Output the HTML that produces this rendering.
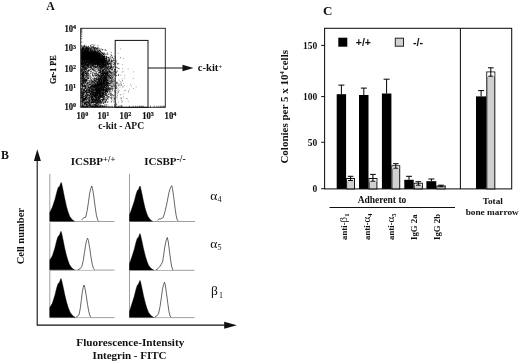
<!DOCTYPE html><html><head><meta charset="utf-8"><title>Figure</title>
<style>html,body{margin:0;padding:0;background:#fff}svg{display:block}text{font-family:"Liberation Serif",serif;font-weight:bold;fill:#111}.r{font-weight:normal}</style></head><body>
<svg width="520" height="362" viewBox="0 0 520 362">
<rect width="520" height="362" fill="#fff"/>
<text x="46.2" y="9.8" font-size="11.8">A</text>
<path d="M94.0 59.7h.8M94.0 53.9h.8M92.7 52.9h.8M92.5 64.1h.8M91.7 54.2h.8M97.7 61.7h.8M97.1 55.2h.8M93.0 61.2h.8M84.6 51.7h.8M81.7 46.3h.8M83.9 54.9h.8M96.1 58.3h.8M93.9 58.8h.8M83.2 50.9h.8M88.2 51.6h.8M104.5 59.2h.8M92.6 61.9h.8M90.1 55.9h.8M95.3 59.2h.8M84.6 54.2h.8M108.2 57.4h.8M101.1 62.2h.8M85.7 64.1h.8M102.8 56.6h.8M94.0 61.1h.8M91.7 60.5h.8M92.7 60.9h.8M107.2 61.2h.8M97.0 57.4h.8M97.7 54.2h.8M90.2 55.6h.8M99.5 66.4h.8M85.4 50.4h.8M103.4 53.0h.8M91.0 56.4h.8M103.2 65.9h.8M92.6 55.8h.8M89.7 63.6h.8M91.7 55.7h.8M97.5 59.3h.8M95.0 53.3h.8M95.2 56.7h.8M102.6 65.4h.8M93.1 61.1h.8M89.8 61.4h.8M93.4 60.8h.8M83.6 55.1h.8M93.7 53.8h.8M91.6 68.1h.8M89.0 52.9h.8M95.2 61.2h.8M93.5 57.0h.8M99.1 63.2h.8M86.4 54.3h.8M96.7 54.4h.8M98.2 56.0h.8M101.9 62.9h.8M96.3 56.5h.8M97.3 50.1h.8M84.8 55.7h.8M86.3 58.5h.8M98.4 52.9h.8M101.8 68.9h.8M94.5 57.2h.8M95.0 54.0h.8M104.3 60.4h.8M95.6 55.1h.8M91.9 51.1h.8M104.8 62.6h.8M102.2 62.1h.8M89.6 54.6h.8M90.0 56.4h.8M92.1 55.9h.8M85.0 50.2h.8M108.9 62.0h.8M85.5 55.9h.8M108.4 57.9h.8M94.0 55.2h.8M94.2 58.7h.8M87.7 57.5h.8M90.5 55.9h.8M87.9 49.5h.8M106.1 61.4h.8M96.9 59.5h.8M91.9 54.8h.8M100.1 59.6h.8M93.3 58.0h.8M102.6 65.6h.8M98.6 57.7h.8M81.7 57.1h.8M102.5 61.5h.8M97.4 63.6h.8M99.4 65.3h.8M88.0 62.8h.8M83.0 57.3h.8M96.8 63.8h.8M106.7 71.4h.8M88.5 47.5h.8M102.9 57.5h.8M92.8 61.8h.8M96.5 59.6h.8M92.5 57.7h.8M90.5 49.3h.8M95.0 54.0h.8M93.3 59.9h.8M87.8 52.2h.8M88.2 51.2h.8M97.5 56.1h.8M96.7 61.2h.8M113.2 60.5h.8M101.7 61.4h.8M97.1 52.7h.8M89.4 59.8h.8M93.7 58.5h.8M90.0 62.0h.8M98.4 49.6h.8M92.6 48.1h.8M105.0 63.6h.8M86.9 50.4h.8M103.2 63.3h.8M95.0 58.5h.8M93.3 61.9h.8M98.5 61.4h.8M85.2 56.7h.8M87.0 60.3h.8M84.6 53.2h.8M96.9 53.2h.8M105.5 70.7h.8M89.4 59.9h.8M102.4 49.5h.8M96.6 59.2h.8M97.2 54.5h.8M92.7 56.8h.8M103.4 64.3h.8M91.6 64.6h.8M90.8 54.9h.8M100.5 65.7h.8M99.6 61.4h.8M96.7 58.3h.8M92.8 58.0h.8M105.5 66.3h.8M95.1 56.0h.8M86.5 62.5h.8M98.4 60.7h.8M93.8 52.8h.8M92.3 61.7h.8M91.8 56.1h.8M92.5 58.1h.8M82.2 51.6h.8M86.0 58.8h.8M87.3 57.9h.8M107.2 62.9h.8M89.3 57.0h.8M96.3 54.5h.8M94.4 68.3h.8M92.8 56.7h.8M85.6 55.9h.8M86.6 49.4h.8M106.4 59.6h.8M100.3 68.6h.8M95.5 61.7h.8M110.4 65.0h.8M92.3 50.9h.8M92.1 64.6h.8M103.9 58.3h.8M88.6 53.3h.8M97.2 58.8h.8M95.7 60.5h.8M92.2 57.2h.8M96.3 58.9h.8M95.0 67.8h.8M99.1 60.9h.8M81.6 45.6h.8M100.0 64.5h.8M96.5 51.1h.8M92.8 54.4h.8M95.4 69.9h.8M97.7 56.2h.8M85.3 53.9h.8M95.2 53.3h.8M97.6 54.3h.8M101.4 66.9h.8M104.0 60.6h.8M98.8 59.9h.8M92.0 55.7h.8M86.8 47.9h.8M101.2 60.7h.8M94.4 63.3h.8M82.1 48.9h.8M95.2 60.7h.8M89.6 61.2h.8M98.4 54.4h.8M85.6 58.3h.8M101.7 52.7h.8M104.1 65.9h.8M105.9 62.0h.8M94.2 52.9h.8M115.1 67.2h.8M108.4 61.8h.8M98.9 52.4h.8M89.6 61.0h.8M82.5 58.1h.8M99.1 55.6h.8M91.4 54.8h.8M95.1 56.2h.8M88.5 54.2h.8M88.7 49.5h.8M92.5 61.8h.8M82.3 52.8h.8M91.1 52.2h.8M102.3 59.6h.8M107.9 61.0h.8M98.0 59.0h.8M87.4 58.0h.8M92.1 60.3h.8M96.1 54.0h.8M93.6 58.3h.8M103.8 58.5h.8M97.4 51.5h.8M101.7 56.6h.8M106.2 56.5h.8M87.2 51.5h.8M84.8 55.8h.8M89.4 52.6h.8M100.6 57.7h.8M99.8 56.2h.8M88.2 46.7h.8M109.9 64.1h.8M96.5 59.3h.8M95.7 59.3h.8M111.7 61.5h.8M84.0 48.7h.8M82.5 56.5h.8M102.8 57.7h.8M84.1 51.9h.8M110.8 52.4h.8M100.7 56.2h.8M104.8 58.1h.8M95.0 51.4h.8M84.1 60.4h.8M101.8 60.0h.8M91.1 47.7h.8M91.4 56.9h.8M94.0 57.8h.8M85.7 54.1h.8M91.8 63.5h.8M109.6 64.9h.8M88.5 55.4h.8M91.0 53.3h.8M96.0 54.1h.8M99.5 60.3h.8M96.8 58.7h.8M90.5 52.0h.8M93.6 55.4h.8M96.4 59.4h.8M83.5 53.7h.8M84.9 51.0h.8M96.0 49.1h.8M94.9 59.4h.8M94.0 56.2h.8M93.3 53.2h.8M93.4 55.3h.8M97.5 54.0h.8M96.1 59.9h.8M94.2 56.2h.8M102.0 53.9h.8M97.7 61.2h.8M96.0 61.1h.8M89.8 55.0h.8M98.8 62.6h.8M99.0 53.2h.8M96.6 65.2h.8M102.1 63.2h.8M98.0 47.9h.8M100.3 54.0h.8M85.3 51.1h.8M105.3 61.8h.8M93.4 66.5h.8M107.4 64.0h.8M94.9 52.6h.8M88.2 57.6h.8M97.5 60.4h.8M103.9 59.1h.8M92.7 61.2h.8M97.2 64.9h.8M98.2 58.7h.8M99.3 55.8h.8M93.5 59.5h.8M81.6 50.7h.8M91.3 52.8h.8M100.9 63.4h.8M89.7 56.2h.8M105.7 50.3h.8M92.5 60.2h.8M96.8 67.8h.8M103.0 64.0h.8M95.4 62.8h.8M90.3 56.3h.8M98.1 69.7h.8M93.3 57.7h.8M93.6 64.6h.8M91.5 64.2h.8M87.1 54.2h.8M91.5 60.9h.8M105.6 56.4h.8M86.6 56.4h.8M92.1 50.0h.8M101.9 64.3h.8M99.3 58.4h.8M103.2 61.4h.8M104.9 58.9h.8M87.3 56.1h.8M87.6 58.6h.8M98.3 55.8h.8M95.7 57.4h.8M103.0 59.4h.8M88.7 61.7h.8M108.6 74.8h.8M94.6 59.6h.8M107.0 63.7h.8M86.5 55.3h.8M99.6 56.9h.8M84.0 46.6h.8M101.2 58.0h.8M93.0 58.8h.8M100.1 59.5h.8M100.1 56.8h.8M93.5 53.1h.8M103.6 62.6h.8M89.3 54.3h.8M91.4 60.5h.8M83.7 48.4h.8M86.8 67.2h.8M102.3 61.6h.8M96.4 69.4h.8M93.3 56.2h.8M103.2 65.0h.8M100.8 59.0h.8M106.7 72.5h.8M97.7 63.3h.8M92.1 59.5h.8M100.6 59.7h.8M89.2 54.4h.8M90.3 54.9h.8M94.5 63.9h.8M110.2 66.0h.8M81.8 48.2h.8M85.8 52.0h.8M98.9 50.8h.8M100.0 53.8h.8M97.1 59.2h.8M92.1 57.0h.8M91.3 54.1h.8M81.1 52.1h.8M105.5 73.3h.8M103.7 66.2h.8M86.4 61.7h.8M94.2 58.0h.8M92.0 57.8h.8M91.2 56.5h.8M86.5 53.0h.8M112.8 66.7h.8M91.6 59.7h.8M102.2 56.7h.8M91.1 61.4h.8M96.4 60.0h.8M108.2 61.6h.8M96.1 56.7h.8M110.0 56.3h.8M90.1 53.9h.8M98.7 63.4h.8M108.6 57.4h.8M101.0 60.1h.8M88.2 58.2h.8M91.0 46.8h.8M94.3 51.2h.8M88.6 57.6h.8M94.0 66.0h.8M95.8 51.6h.8M90.2 52.0h.8M84.0 55.7h.8M93.0 48.2h.8M100.3 60.6h.8M97.1 60.2h.8M99.5 61.0h.8M103.6 64.8h.8M96.9 61.6h.8M83.2 52.4h.8M92.0 58.4h.8M97.6 54.1h.8M81.4 51.0h.8M95.1 55.3h.8M96.4 56.3h.8M100.2 57.7h.8M92.4 62.3h.8M116.9 64.0h.8M92.4 53.4h.8M102.9 56.8h.8M90.7 56.6h.8M88.5 51.0h.8M94.6 48.4h.8M83.7 51.5h.8M96.0 58.3h.8M81.2 50.1h.8M99.8 63.7h.8M95.5 54.7h.8M100.6 58.5h.8M86.7 51.0h.8M105.6 64.8h.8M104.6 60.9h.8M103.1 59.6h.8M88.6 67.8h.8M101.6 59.4h.8M93.2 59.5h.8M105.1 61.1h.8M81.1 50.9h.8M94.4 59.0h.8M104.4 64.7h.8M103.0 57.1h.8M97.5 70.1h.8M100.2 62.4h.8M92.4 66.2h.8M87.3 54.6h.8M96.8 63.2h.8M90.4 58.1h.8M92.1 57.9h.8M95.6 53.5h.8M92.7 61.9h.8M87.2 53.9h.8M101.8 56.7h.8M97.9 55.0h.8M99.2 71.9h.8M111.0 65.1h.8M100.2 61.7h.8M92.4 65.1h.8M82.0 57.8h.8M91.5 63.9h.8M97.2 56.5h.8M95.3 62.5h.8M93.9 60.6h.8M94.3 48.1h.8M100.4 64.6h.8M95.6 59.3h.8M103.6 60.5h.8M89.2 55.1h.8M106.6 57.4h.8M105.2 60.4h.8M83.4 59.4h.8M96.1 53.0h.8M89.9 60.9h.8M104.8 61.2h.8M96.4 62.9h.8M88.7 57.5h.8M95.2 56.2h.8M90.5 56.9h.8M95.8 56.4h.8M89.0 61.4h.8M94.6 62.8h.8M103.0 65.3h.8M114.1 63.7h.8M101.5 60.2h.8M106.1 72.2h.8M98.3 64.1h.8M100.5 61.0h.8M96.9 62.8h.8M92.0 62.3h.8M84.5 58.5h.8M94.3 54.1h.8M99.2 56.3h.8M90.1 48.9h.8M93.4 60.4h.8M102.9 61.7h.8M102.8 62.5h.8M92.7 60.4h.8M103.6 61.1h.8M92.9 57.0h.8M96.8 55.2h.8M103.4 60.7h.8M99.7 56.9h.8M96.6 61.4h.8M87.4 65.0h.8M94.2 67.0h.8M103.4 59.4h.8M90.6 58.8h.8M94.9 58.9h.8M95.6 50.2h.8M96.8 48.8h.8M98.8 57.0h.8M89.2 55.0h.8M99.3 53.8h.8M82.5 47.7h.8M109.2 60.2h.8M102.2 55.5h.8M97.5 58.3h.8M93.0 60.5h.8M108.1 65.8h.8M97.3 55.1h.8M99.6 59.7h.8M101.2 61.4h.8M112.1 57.1h.8M90.5 60.9h.8M93.2 54.0h.8M94.9 52.0h.8M90.9 68.7h.8M105.7 58.3h.8M88.3 53.6h.8M104.0 59.0h.8M87.3 59.5h.8M102.1 60.2h.8M88.5 48.2h.8M93.1 47.0h.8M101.7 58.8h.8M94.9 67.7h.8M106.0 58.3h.8M99.3 66.4h.8M90.3 51.9h.8M96.6 51.7h.8M110.7 54.4h.8M86.2 53.3h.8M92.4 58.3h.8M97.1 58.7h.8M107.5 54.2h.8M95.8 55.6h.8M95.1 59.9h.8M88.4 52.6h.8M100.2 62.8h.8M85.3 64.1h.8M115.6 61.3h.8M92.2 69.6h.8M100.3 62.3h.8M93.8 55.6h.8M93.8 55.5h.8M101.2 59.7h.8M93.2 52.1h.8M95.8 54.8h.8M91.1 62.0h.8M96.5 61.9h.8M97.2 60.1h.8M94.1 56.8h.8M102.6 57.0h.8M105.1 63.6h.8M89.4 53.8h.8M88.8 56.6h.8M86.7 60.4h.8M92.5 46.5h.8M92.4 47.8h.8M92.2 62.6h.8M102.2 55.6h.8M85.1 62.8h.8M97.0 59.7h.8M98.4 72.2h.8M104.6 63.9h.8M96.2 62.3h.8M91.6 52.0h.8M96.7 54.9h.8M93.8 58.7h.8M114.8 63.8h.8M93.8 57.4h.8M96.0 64.3h.8M92.1 53.4h.8M83.1 48.7h.8M98.7 60.7h.8M87.1 53.2h.8M93.8 60.6h.8M90.2 55.3h.8M82.1 47.1h.8M111.5 55.8h.8M91.4 58.1h.8M93.0 53.9h.8M94.0 58.3h.8M97.3 50.7h.8M94.9 54.5h.8M89.7 57.4h.8M97.9 64.5h.8M88.8 60.3h.8M101.7 67.4h.8M105.9 63.1h.8M91.6 61.1h.8M83.2 54.3h.8M91.0 55.1h.8M82.3 48.5h.8M92.7 62.0h.8M102.5 61.9h.8M94.5 54.5h.8M98.2 59.0h.8M96.1 67.7h.8M97.0 52.4h.8M90.3 49.5h.8M82.5 59.3h.8M99.1 53.3h.8M97.4 66.0h.8M92.9 54.5h.8M91.3 58.4h.8M97.4 65.6h.8M102.0 67.7h.8M104.1 66.2h.8M82.5 52.3h.8M97.7 58.1h.8M102.4 60.5h.8M84.4 60.8h.8M99.4 61.9h.8M99.9 66.2h.8M101.8 50.0h.8M90.0 54.2h.8M86.3 55.6h.8M104.9 61.0h.8M81.7 62.4h.8M93.2 51.9h.8M95.6 61.1h.8M87.4 59.0h.8M92.3 53.0h.8M94.5 62.2h.8M88.8 57.5h.8M88.5 69.4h.8M86.3 61.4h.8M94.3 57.8h.8M98.6 64.7h.8M104.0 64.5h.8M90.7 54.1h.8M97.5 62.7h.8M104.9 65.4h.8M100.1 68.5h.8M98.6 53.2h.8M87.8 48.4h.8M108.8 61.0h.8M103.2 65.4h.8M106.3 68.9h.8M94.1 57.3h.8M94.9 59.5h.8M90.3 56.4h.8M110.5 57.7h.8M98.2 55.8h.8M94.4 62.5h.8M92.6 61.4h.8M88.5 58.7h.8M100.8 48.9h.8M88.1 56.6h.8M106.4 65.4h.8M99.2 53.8h.8M102.6 71.0h.8M95.1 57.7h.8M114.7 71.4h.8M103.6 65.4h.8M84.2 60.2h.8M85.0 53.1h.8M95.1 63.1h.8M97.1 61.6h.8M90.8 50.5h.8M96.3 55.9h.8M86.4 48.6h.8M94.0 49.3h.8M86.8 47.0h.8M95.2 60.8h.8M113.3 60.0h.8M87.4 59.6h.8M93.4 56.4h.8M108.8 63.5h.8M87.7 48.9h.8M96.6 61.0h.8M85.4 49.5h.8M97.7 62.8h.8M88.2 58.6h.8M102.4 53.5h.8M91.2 59.0h.8M93.9 47.8h.8M90.8 60.4h.8M111.2 55.6h.8M117.4 63.7h.8M99.8 67.0h.8M102.1 62.8h.8M84.1 56.7h.8M93.5 45.8h.8M115.7 71.8h.8M110.7 61.6h.8M103.2 70.3h.8M106.9 64.2h.8M85.2 53.3h.8M97.1 54.9h.8M93.4 57.5h.8M107.5 70.9h.8M91.9 63.2h.8M88.9 54.3h.8M104.1 56.9h.8M94.7 52.2h.8M92.4 65.4h.8M88.1 56.6h.8M89.5 50.6h.8M81.9 59.7h.8M112.4 69.2h.8M87.5 58.6h.8M90.3 60.5h.8M96.3 60.7h.8M100.4 58.4h.8M94.5 50.1h.8M93.6 51.2h.8M95.1 54.1h.8M94.5 60.7h.8M84.7 50.0h.8M85.6 58.0h.8M106.5 68.2h.8M89.0 63.0h.8M94.4 45.0h.8M112.7 74.7h.8M86.0 55.3h.8M92.6 58.1h.8M83.9 50.3h.8M97.8 61.1h.8M103.9 63.3h.8M114.6 64.4h.8M100.1 51.8h.8M82.0 59.1h.8M86.0 57.1h.8M95.9 54.1h.8M92.7 55.2h.8M89.2 59.7h.8M100.8 58.6h.8M86.7 56.3h.8M91.8 62.2h.8M114.1 71.7h.8M94.5 57.7h.8M89.4 51.7h.8M87.2 53.2h.8M89.7 59.9h.8M91.7 56.2h.8M81.7 60.5h.8M95.2 67.5h.8M98.1 67.4h.8M91.2 60.4h.8M118.4 63.7h.8M100.7 69.6h.8M96.4 63.1h.8M106.0 60.6h.8M99.5 56.5h.8M90.2 53.4h.8M93.1 58.6h.8M100.9 54.4h.8M108.5 70.8h.8M101.1 59.8h.8M92.7 60.4h.8M101.1 53.2h.8M95.0 73.2h.8M97.7 59.5h.8M108.0 58.9h.8M93.0 65.1h.8M93.7 56.0h.8M96.3 57.1h.8M108.9 60.7h.8M104.0 56.7h.8M100.2 60.6h.8M86.6 52.6h.8M109.2 59.8h.8M83.1 60.4h.8M92.5 65.3h.8M98.8 56.1h.8M91.6 63.3h.8M102.2 62.1h.8M95.1 58.2h.8M86.1 64.2h.8M96.7 53.9h.8M89.2 59.7h.8M100.0 60.4h.8M89.0 56.0h.8M83.3 46.8h.8M102.0 59.6h.8M95.2 64.9h.8M99.8 61.1h.8M110.7 69.4h.8M90.2 60.1h.8M99.5 56.6h.8M95.4 58.1h.8M93.0 55.6h.8M81.7 50.8h.8M94.0 58.8h.8M84.0 56.8h.8M85.0 52.9h.8M106.5 60.7h.8M88.3 60.9h.8M91.9 55.8h.8M94.3 63.6h.8M88.3 50.2h.8M89.1 51.8h.8M98.7 56.0h.8M94.7 60.6h.8M88.3 56.3h.8M107.3 66.1h.8M89.4 55.8h.8M86.5 56.1h.8M103.1 58.4h.8M90.7 62.2h.8M90.1 57.4h.8M87.7 51.3h.8M86.3 65.2h.8M92.2 54.9h.8M90.3 55.7h.8M99.4 61.7h.8M110.5 67.0h.8M105.5 65.0h.8M102.0 55.0h.8M93.6 57.8h.8M96.6 49.0h.8M102.2 60.2h.8M91.5 55.9h.8M91.9 59.3h.8M86.1 50.1h.8M96.5 60.2h.8M92.6 54.8h.8M88.0 55.2h.8M105.9 58.7h.8M105.1 67.5h.8M89.4 59.9h.8M86.0 46.1h.8M85.0 52.1h.8M92.9 55.2h.8M99.3 50.4h.8M101.1 54.7h.8M90.0 54.4h.8M87.8 48.7h.8M86.5 54.7h.8M98.2 62.9h.8M88.0 51.6h.8M86.3 56.9h.8M92.1 53.6h.8M95.3 63.9h.8M95.3 64.0h.8M93.3 63.9h.8M104.6 62.7h.8M105.7 64.5h.8M96.9 55.1h.8M90.8 60.5h.8M82.8 56.2h.8M96.8 60.9h.8M101.1 57.9h.8M99.6 49.4h.8M101.1 58.4h.8M104.9 54.4h.8M100.5 60.1h.8M102.7 57.8h.8M85.4 65.1h.8M89.2 52.6h.8M94.2 53.4h.8M100.8 69.8h.8M92.1 49.0h.8M101.8 67.3h.8M98.9 66.2h.8M87.9 54.6h.8M86.1 47.7h.8M103.6 59.5h.8M112.5 67.3h.8M87.9 59.3h.8M108.0 67.1h.8M84.1 55.5h.8M106.4 61.6h.8M86.4 59.7h.8M97.7 54.6h.8M92.9 54.1h.8M96.7 60.0h.8M102.4 65.6h.8M81.3 54.3h.8M100.8 63.7h.8M103.7 60.1h.8M85.2 58.7h.8M90.0 45.9h.8M104.0 59.4h.8M94.7 51.8h.8M86.1 49.0h.8M90.9 58.6h.8M87.1 49.9h.8M100.0 60.7h.8M87.2 56.3h.8M93.5 64.9h.8M89.0 60.8h.8M86.5 60.2h.8M89.1 54.2h.8M109.0 66.8h.8M91.2 67.8h.8M98.9 56.6h.8M102.6 56.5h.8M101.3 67.5h.8M91.1 53.9h.8M95.9 59.2h.8M85.6 57.1h.8M91.8 55.9h.8M99.2 54.7h.8M99.5 60.0h.8M91.9 50.6h.8M84.4 55.5h.8M86.7 55.2h.8M101.0 66.6h.8M107.5 63.1h.8M83.9 58.5h.8M94.9 64.1h.8M92.4 63.3h.8M99.9 64.5h.8M97.8 62.0h.8M95.9 60.3h.8M103.3 60.1h.8M108.5 64.5h.8M102.5 61.8h.8M88.8 65.7h.8M94.4 52.3h.8M89.4 54.6h.8M111.3 67.3h.8M103.8 58.0h.8M96.1 62.5h.8M110.2 62.4h.8M98.8 62.0h.8M86.4 54.6h.8M96.7 48.2h.8M98.3 62.9h.8M93.5 51.5h.8M105.8 65.1h.8M100.0 67.9h.8M88.8 59.8h.8M92.7 57.4h.8M93.8 58.2h.8M103.2 63.1h.8M93.8 56.8h.8M98.9 56.2h.8M90.6 56.4h.8M90.2 55.9h.8M85.9 64.2h.8M104.3 65.2h.8M90.0 67.0h.8M97.2 59.4h.8M96.3 60.8h.8M105.8 63.7h.8M112.9 62.8h.8M101.9 57.1h.8M109.6 63.9h.8M92.3 62.0h.8M106.6 58.7h.8M94.3 51.7h.8M95.8 58.6h.8M93.0 54.5h.8M92.8 54.1h.8M95.9 66.5h.8M90.2 58.9h.8M87.2 54.4h.8M84.9 57.4h.8M95.6 58.2h.8M97.9 58.9h.8M81.0 55.1h.8M97.1 59.0h.8M100.1 67.0h.8M87.2 51.3h.8M104.2 69.9h.8M90.8 51.0h.8M90.3 54.1h.8M81.8 52.7h.8M86.5 48.9h.8M103.1 59.2h.8M92.8 60.7h.8M101.6 60.2h.8M96.4 55.4h.8M107.2 67.6h.8M85.7 54.4h.8M99.3 63.1h.8M106.5 70.8h.8M90.4 56.1h.8M83.8 54.7h.8M90.7 69.8h.8M99.2 50.5h.8M88.9 56.4h.8M86.1 50.4h.8M90.9 58.5h.8M94.8 54.3h.8M101.8 59.3h.8M93.1 51.1h.8M87.0 58.2h.8M81.7 52.2h.8M100.9 59.7h.8M98.5 54.9h.8M102.9 67.8h.8M99.6 52.4h.8M84.3 58.5h.8M107.6 66.1h.8M105.6 60.7h.8M93.0 57.8h.8M100.7 54.0h.8M99.5 67.3h.8M87.9 48.8h.8M98.5 57.2h.8M96.6 57.2h.8M111.1 66.9h.8M88.3 56.1h.8M87.6 51.6h.8M98.6 57.7h.8M87.8 63.5h.8M99.9 64.9h.8M97.8 62.4h.8M106.2 63.8h.8M111.1 61.6h.8M95.0 52.1h.8M90.8 59.3h.8M107.3 61.3h.8M95.2 57.1h.8M90.8 51.0h.8M98.2 51.8h.8M95.3 59.0h.8M91.1 52.0h.8M80.9 59.7h.8M100.0 59.3h.8M83.3 58.4h.8M110.0 61.2h.8M90.2 61.6h.8M93.5 67.7h.8M88.9 58.5h.8M92.8 47.0h.8M93.8 57.5h.8M110.4 64.3h.8M93.3 60.8h.8M107.3 64.1h.8M101.8 64.4h.8M92.0 57.7h.8M96.4 55.0h.8M106.8 57.5h.8M102.1 66.7h.8M95.2 55.1h.8M91.8 59.5h.8M99.9 62.4h.8M103.4 60.0h.8M99.3 53.1h.8M100.3 62.0h.8M89.0 61.6h.8M105.3 49.8h.8M97.5 52.8h.8M98.4 72.4h.8M90.2 56.9h.8M91.8 59.0h.8M97.2 66.0h.8M83.7 61.1h.8M86.6 56.1h.8M102.4 65.7h.8M88.3 52.2h.8M90.9 56.6h.8M106.0 57.6h.8M97.1 62.7h.8M98.1 62.4h.8M105.7 66.1h.8M100.3 63.9h.8M112.3 57.6h.8M105.2 62.2h.8M94.1 53.6h.8M88.1 57.9h.8M97.1 58.5h.8M90.3 52.7h.8M86.5 52.1h.8M94.9 57.8h.8M83.7 52.2h.8M87.1 55.8h.8M108.2 67.9h.8M95.0 50.9h.8M86.4 46.5h.8M101.7 58.1h.8M96.2 56.3h.8M92.6 64.4h.8M89.7 54.6h.8M86.4 59.0h.8M88.4 50.2h.8M86.1 47.7h.8M93.5 70.5h.8M84.8 58.6h.8M98.6 55.0h.8M92.7 56.5h.8M85.4 63.6h.8M98.2 57.4h.8M94.1 62.6h.8M94.9 60.7h.8M103.8 53.0h.8M102.1 73.1h.8M100.4 66.2h.8M83.5 52.8h.8M89.1 53.1h.8M103.7 58.9h.8M97.0 50.4h.8M93.1 58.3h.8M90.2 53.0h.8M111.8 60.7h.8M87.6 51.4h.8M100.2 71.3h.8M98.5 56.9h.8M89.1 61.2h.8M84.5 60.9h.8M105.7 64.0h.8M98.3 63.9h.8M108.9 60.1h.8M104.6 61.4h.8M88.2 56.1h.8M94.6 53.8h.8M83.5 48.8h.8M102.4 71.7h.8M97.5 65.6h.8M90.5 56.3h.8M98.8 55.2h.8M86.4 55.2h.8M93.9 53.1h.8M98.1 58.9h.8M102.7 62.3h.8M91.9 57.9h.8M94.4 55.2h.8M89.9 60.0h.8M97.3 66.0h.8M81.7 50.6h.8M90.9 57.6h.8M91.8 54.8h.8M100.4 62.1h.8M82.7 59.5h.8M103.5 59.9h.8M102.5 58.7h.8M103.9 61.8h.8M88.8 54.0h.8M88.0 56.4h.8M95.8 59.3h.8M98.8 51.3h.8M94.3 63.9h.8M97.4 58.0h.8M93.3 57.3h.8M91.2 54.1h.8M84.9 59.8h.8M92.6 62.3h.8M92.4 57.9h.8M92.3 59.7h.8M100.6 62.5h.8M90.6 52.9h.8M108.3 63.6h.8M89.5 63.3h.8M102.2 64.7h.8M86.9 66.4h.8M96.6 62.1h.8M95.8 52.2h.8M83.1 55.2h.8M98.1 59.0h.8M87.8 48.4h.8M94.6 51.5h.8M99.5 66.4h.8M115.4 72.5h.8M91.4 52.8h.8M91.3 61.7h.8M98.3 63.1h.8M95.0 61.9h.8M108.0 59.6h.8M93.4 51.3h.8M105.0 69.7h.8M102.7 56.5h.8M96.3 58.2h.8M95.5 58.1h.8M99.4 58.9h.8M100.9 62.6h.8M92.4 57.0h.8M89.5 60.1h.8M91.8 58.7h.8M94.1 51.1h.8M103.7 57.7h.8M99.1 62.7h.8M83.0 48.6h.8M91.9 53.3h.8M83.7 57.1h.8M91.9 59.1h.8M90.5 58.1h.8M88.6 55.6h.8M99.1 60.8h.8M92.9 52.5h.8M95.2 60.5h.8M93.9 54.5h.8M94.2 70.4h.8M91.5 58.7h.8M102.3 49.7h.8M96.8 56.1h.8M106.0 62.6h.8M88.7 54.7h.8M96.9 56.9h.8M96.6 52.9h.8M91.3 60.8h.8M108.9 68.6h.8M94.5 64.2h.8M99.5 68.9h.8M103.4 62.1h.8M96.2 60.2h.8M96.5 60.4h.8M92.2 47.2h.8M92.9 47.9h.8M95.0 58.8h.8M101.2 62.1h.8M104.3 72.2h.8M83.0 58.1h.8M97.2 61.8h.8M103.3 59.1h.8M91.3 53.0h.8M88.7 55.3h.8M84.9 48.9h.8M99.2 60.4h.8M101.1 52.4h.8M89.3 53.4h.8M95.8 56.3h.8M102.1 61.7h.8M94.6 58.6h.8M101.0 59.3h.8M102.6 64.5h.8M95.7 59.2h.8M96.8 64.5h.8M101.3 63.5h.8M101.3 62.2h.8M104.5 63.1h.8M97.5 54.2h.8M94.6 54.2h.8M110.3 68.3h.8M81.0 54.8h.8M87.8 64.7h.8M90.3 45.6h.8M95.7 57.4h.8M95.2 48.4h.8M94.8 66.8h.8M85.6 65.8h.8M98.3 59.4h.8M102.3 64.7h.8M88.5 59.1h.8M93.8 49.5h.8M111.4 64.7h.8M89.0 57.6h.8M84.6 47.3h.8M91.5 54.6h.8M93.0 63.2h.8M89.8 58.7h.8M101.3 56.4h.8M98.1 55.6h.8M102.1 64.3h.8M97.1 53.2h.8M96.9 55.9h.8M100.4 60.6h.8M86.3 59.2h.8M101.4 58.8h.8M104.3 61.6h.8M91.8 57.8h.8M89.3 53.9h.8M90.4 64.0h.8M106.9 63.0h.8M107.4 64.3h.8M95.9 63.4h.8M92.3 69.2h.8M98.7 54.6h.8M105.7 61.7h.8M97.6 45.4h.8M101.0 65.5h.8M99.1 65.4h.8M108.1 64.6h.8M103.4 59.0h.8M89.7 61.4h.8M100.1 54.6h.8M97.7 59.1h.8M87.2 57.2h.8M94.2 50.7h.8M82.3 61.4h.8M82.0 53.8h.8M98.2 63.3h.8M85.3 52.7h.8M94.1 62.2h.8M91.5 51.5h.8M100.4 66.6h.8M98.6 57.4h.8M97.5 60.4h.8M103.5 56.6h.8M95.7 58.3h.8M85.2 55.2h.8M95.5 57.0h.8M100.3 54.3h.8M93.3 60.0h.8M94.8 63.8h.8M87.7 48.0h.8M95.6 61.2h.8M110.3 68.8h.8M86.0 58.5h.8M90.5 49.4h.8M114.7 69.5h.8M99.2 63.4h.8M108.4 66.4h.8M106.1 58.9h.8M105.3 66.0h.8M96.0 60.0h.8M86.2 62.1h.8M98.8 63.0h.8M95.6 64.1h.8M97.1 63.4h.8M84.2 56.2h.8M112.9 64.6h.8M91.8 61.6h.8M101.0 64.6h.8M86.6 50.8h.8M99.4 59.4h.8M95.1 74.1h.8M99.4 64.3h.8M88.6 52.6h.8M87.0 52.4h.8M87.0 51.8h.8M94.7 53.7h.8M85.7 47.8h.8M98.0 60.4h.8M100.7 66.5h.8M90.5 59.9h.8M104.4 62.1h.8M84.5 55.7h.8M81.0 48.4h.8M100.3 61.6h.8M88.8 60.5h.8M85.7 55.8h.8M92.1 53.3h.8M100.0 56.3h.8M110.8 63.2h.8M112.4 61.5h.8M101.6 56.0h.8M83.5 54.1h.8M102.3 55.9h.8M105.4 59.7h.8M94.8 60.5h.8M102.6 53.5h.8M106.4 66.8h.8M93.0 52.8h.8M83.5 46.8h.8M99.5 59.2h.8M86.5 52.2h.8M107.6 63.0h.8M87.3 61.7h.8M98.1 60.4h.8M92.5 50.0h.8M86.1 52.2h.8M92.1 59.1h.8M98.5 61.4h.8M98.1 55.3h.8M88.1 52.3h.8M94.6 52.5h.8M85.8 54.0h.8M96.6 56.3h.8M98.9 59.5h.8M86.3 54.9h.8M110.8 62.8h.8M101.2 68.3h.8M108.0 60.8h.8M110.4 66.5h.8M92.9 56.6h.8M99.2 60.9h.8M90.7 63.0h.8M90.7 51.7h.8M99.5 64.3h.8M105.2 58.3h.8M102.2 64.4h.8M110.9 60.1h.8M96.8 58.2h.8M83.2 49.7h.8M104.4 60.8h.8M87.1 59.3h.8M100.6 66.1h.8M88.3 55.3h.8M103.9 59.7h.8M87.0 59.0h.8M109.1 59.7h.8M86.7 54.2h.8M99.7 60.2h.8M88.6 56.5h.8M86.9 54.7h.8M84.4 66.8h.8M102.6 58.2h.8M87.4 53.0h.8M82.7 49.5h.8M87.0 59.3h.8M92.6 53.8h.8M86.0 48.8h.8M94.4 57.4h.8M104.7 60.2h.8M102.5 63.5h.8M98.2 50.5h.8M82.8 56.7h.8M105.3 64.5h.8M101.3 59.7h.8M92.8 54.5h.8M101.6 63.5h.8M93.2 56.3h.8M98.3 61.9h.8M84.7 62.2h.8M96.5 59.5h.8M104.4 68.1h.8M92.8 60.3h.8M87.2 52.0h.8M89.7 51.5h.8M92.4 58.8h.8M96.1 67.8h.8M95.7 63.3h.8M88.4 59.1h.8M96.6 57.2h.8M93.8 57.9h.8M95.3 60.8h.8M91.8 53.7h.8M103.6 54.5h.8M86.7 62.4h.8M103.1 54.5h.8M120.0 57.8h.8M103.1 70.1h.8M102.2 61.0h.8M99.0 56.3h.8M103.0 57.0h.8M90.5 61.5h.8M86.3 52.9h.8M98.3 53.8h.8M103.2 64.2h.8M82.5 52.7h.8M89.5 53.0h.8M96.4 56.0h.8M103.5 59.3h.8M102.4 62.0h.8M102.3 59.5h.8M92.6 52.0h.8M97.4 64.4h.8M109.0 71.5h.8M96.9 58.6h.8M97.7 59.8h.8M104.4 67.7h.8M89.1 52.6h.8M104.8 64.8h.8M90.4 62.4h.8M91.9 55.9h.8M94.5 49.0h.8M103.6 56.9h.8M91.3 53.4h.8M100.4 60.9h.8M97.7 51.9h.8M96.5 52.3h.8M96.3 61.1h.8M90.6 66.6h.8M97.6 62.8h.8M96.0 58.3h.8M100.2 66.5h.8M82.2 57.9h.8M96.8 64.2h.8M100.5 55.3h.8M81.8 61.4h.8M99.1 53.8h.8M97.9 58.4h.8M81.2 53.6h.8M94.6 57.3h.8M95.7 62.0h.8M90.2 50.5h.8M90.4 56.0h.8M95.1 51.7h.8M86.9 64.7h.8M89.2 47.9h.8M95.6 61.9h.8M100.3 55.8h.8M103.9 59.1h.8M86.6 51.9h.8M92.3 60.9h.8M99.5 60.7h.8M101.8 62.3h.8M104.3 56.2h.8M84.0 52.1h.8M94.6 56.2h.8M88.3 62.4h.8M112.8 67.1h.8M93.0 61.3h.8M111.3 60.6h.8M95.5 58.1h.8M98.7 61.2h.8M100.5 59.3h.8M96.1 56.0h.8M89.5 55.5h.8M95.5 53.3h.8M107.3 63.8h.8M81.4 57.7h.8M87.6 57.7h.8M93.9 59.4h.8M96.9 56.8h.8M91.0 66.8h.8M99.9 55.9h.8M87.7 65.4h.8M98.6 60.8h.8M97.1 62.8h.8M103.1 64.6h.8M95.3 59.7h.8M103.8 66.8h.8M87.7 52.2h.8M98.3 57.2h.8M93.3 53.3h.8M91.6 59.2h.8M102.4 62.2h.8M111.2 65.9h.8M118.1 74.4h.8M99.4 58.4h.8M92.3 66.8h.8M91.1 60.5h.8M90.5 59.9h.8M97.4 54.3h.8M100.8 64.8h.8M97.4 64.7h.8M103.3 62.5h.8M86.2 47.9h.8M103.9 66.4h.8M96.1 57.1h.8M94.7 58.7h.8M93.1 54.5h.8M111.3 67.5h.8M92.1 51.1h.8M87.4 58.7h.8M101.0 60.4h.8M95.5 57.5h.8M83.2 59.6h.8M92.9 69.8h.8M88.7 55.1h.8M102.0 60.8h.8M85.2 49.6h.8M94.7 60.2h.8M91.9 62.1h.8M101.8 63.5h.8M95.2 57.6h.8M97.2 64.2h.8M94.1 60.5h.8M94.5 51.7h.8M85.1 57.8h.8M95.1 66.5h.8M93.3 62.2h.8M103.2 67.4h.8M90.0 55.5h.8M97.4 55.1h.8M96.4 64.3h.8M87.0 64.6h.8M92.6 56.6h.8M93.9 54.8h.8M97.8 60.1h.8M106.6 67.1h.8M99.2 59.6h.8M83.4 52.9h.8M85.9 59.1h.8M91.2 65.0h.8M98.8 64.6h.8M96.0 60.2h.8M98.0 64.6h.8M87.9 57.8h.8M115.6 67.9h.8M93.7 54.8h.8M94.4 59.9h.8M104.5 75.4h.8M85.5 59.4h.8M98.7 62.4h.8M98.4 60.2h.8M106.0 66.9h.8M94.9 64.8h.8M100.8 63.7h.8M93.9 66.7h.8M98.7 60.1h.8M88.3 54.0h.8M85.9 55.0h.8M100.4 51.3h.8M93.5 61.2h.8M97.6 55.3h.8M105.9 60.5h.8M86.7 49.6h.8M92.6 62.4h.8M103.4 63.7h.8M86.2 51.5h.8M87.7 54.5h.8M99.9 60.3h.8M99.9 56.5h.8M84.1 50.6h.8M101.8 66.9h.8M88.6 61.6h.8M89.1 63.3h.8M99.2 58.5h.8M102.3 58.4h.8M89.7 49.2h.8M96.7 59.2h.8M94.6 56.6h.8M106.8 62.2h.8M86.4 60.8h.8M105.2 65.1h.8M81.7 49.6h.8M99.4 60.9h.8M109.4 58.8h.8M101.1 58.5h.8M105.2 63.1h.8M103.9 59.8h.8M85.3 48.8h.8M91.6 52.2h.8M101.6 68.3h.8M98.6 55.4h.8M94.8 55.3h.8M105.5 65.2h.8M99.1 58.7h.8M84.9 55.8h.8M96.8 55.7h.8M88.5 63.3h.8M88.6 51.3h.8M94.0 54.9h.8M90.1 59.0h.8M111.6 57.8h.8M94.3 58.6h.8M94.2 57.4h.8M89.9 61.2h.8M91.0 56.3h.8M94.3 58.9h.8M91.3 61.8h.8M94.1 59.2h.8M96.0 54.3h.8M89.8 51.2h.8M97.4 56.4h.8M85.6 55.5h.8M102.0 53.4h.8M107.9 64.9h.8M91.7 62.4h.8M96.2 56.4h.8M114.0 62.4h.8M92.1 61.5h.8M86.2 54.1h.8M93.1 69.5h.8M87.5 55.0h.8M99.6 61.3h.8M84.1 55.7h.8M94.5 60.7h.8M101.6 66.7h.8M97.2 61.3h.8M86.0 53.9h.8M97.0 57.7h.8M96.8 55.6h.8M102.7 72.8h.8M90.6 58.6h.8M90.3 62.7h.8M97.8 60.4h.8M92.5 58.2h.8M85.3 57.5h.8M87.8 58.0h.8M93.5 63.3h.8M92.5 62.5h.8M86.0 57.5h.8M92.4 58.4h.8M93.3 62.5h.8M84.0 54.2h.8M93.6 49.3h.8M90.6 59.9h.8M91.3 61.6h.8M91.6 57.2h.8M90.8 58.4h.8M109.0 67.0h.8M97.2 56.8h.8M85.8 61.5h.8M87.3 50.7h.8M94.5 56.4h.8M114.5 56.3h.8M96.1 62.7h.8M86.8 51.8h.8M94.9 66.6h.8M90.1 48.8h.8M99.4 68.2h.8M95.9 48.4h.8M106.4 63.1h.8M103.5 62.5h.8M92.3 55.3h.8M103.6 69.7h.8M109.4 63.6h.8M83.6 53.5h.8M93.8 57.7h.8M91.3 55.5h.8M90.2 58.1h.8M88.6 54.3h.8M90.9 63.2h.8M97.7 59.5h.8M98.0 62.1h.8M102.2 64.6h.8M106.3 70.5h.8M94.9 56.7h.8M100.6 63.8h.8M96.5 52.3h.8M99.2 64.6h.8M82.3 57.8h.8M89.5 58.1h.8M99.3 56.8h.8M93.6 48.0h.8M90.5 47.9h.8M97.9 60.4h.8M101.1 63.3h.8M88.8 57.5h.8M90.3 59.5h.8M98.9 55.7h.8M94.4 58.7h.8M90.4 60.9h.8M108.8 63.4h.8M95.9 48.2h.8M94.3 56.3h.8M100.6 57.8h.8M93.3 53.3h.8M103.4 55.3h.8M88.4 65.1h.8M94.0 60.6h.8M95.5 53.3h.8M93.5 60.0h.8M85.7 56.1h.8M102.4 67.4h.8M83.7 48.7h.8M98.1 63.6h.8M89.7 50.6h.8M94.9 59.2h.8M87.4 55.9h.8M99.2 61.8h.8M90.1 46.2h.8M92.1 58.2h.8M93.2 55.8h.8M87.7 58.8h.8M93.9 58.8h.8M87.9 52.4h.8M97.7 55.1h.8M85.1 52.5h.8M103.7 63.7h.8M106.4 63.4h.8M94.6 51.8h.8M87.2 62.1h.8M95.7 62.6h.8M100.1 61.1h.8M92.6 58.2h.8M99.0 62.8h.8M98.1 60.9h.8M88.8 54.6h.8M85.1 59.0h.8M114.2 66.0h.8M85.5 54.2h.8M105.1 62.7h.8M99.2 61.2h.8M85.7 69.7h.8M96.1 56.6h.8M89.9 58.2h.8M96.3 63.1h.8M98.3 53.3h.8M99.3 59.2h.8M95.0 51.5h.8M91.3 53.5h.8M96.9 52.6h.8M94.7 59.2h.8M86.7 51.8h.8M86.0 58.9h.8M82.1 50.6h.8M102.4 59.1h.8M97.2 55.6h.8M108.3 69.4h.8M106.0 57.4h.8M83.7 58.7h.8M93.4 56.7h.8M99.5 54.7h.8M100.6 61.4h.8M99.6 57.6h.8M99.9 57.6h.8M100.0 66.6h.8M100.8 64.0h.8M104.6 50.1h.8M101.7 60.5h.8M95.8 57.7h.8M84.4 51.2h.8M97.1 66.6h.8M91.2 52.6h.8M107.7 60.4h.8M110.9 66.4h.8M85.6 59.1h.8M110.7 59.1h.8M107.5 63.2h.8M107.1 62.5h.8M81.0 54.6h.8M98.0 70.3h.8M107.0 67.7h.8M93.6 55.5h.8M93.7 54.1h.8M97.0 47.3h.8M96.0 59.0h.8M113.6 71.1h.8M89.6 59.0h.8M85.8 51.5h.8M101.4 56.0h.8M92.3 62.1h.8M97.7 61.9h.8M88.8 52.8h.8M93.5 62.5h.8M90.0 50.9h.8M105.4 59.0h.8M102.6 63.5h.8M98.3 68.7h.8M98.5 64.2h.8M88.5 52.3h.8M96.8 67.0h.8M101.3 72.9h.8M96.6 60.5h.8M102.5 62.3h.8M95.9 54.1h.8M104.4 57.9h.8M101.2 54.7h.8M105.2 58.5h.8M104.2 55.3h.8M88.8 61.6h.8M88.0 55.8h.8M95.0 47.5h.8M96.2 61.4h.8M84.6 56.7h.8M90.0 51.5h.8M95.8 55.8h.8M115.7 60.8h.8M98.6 65.2h.8M99.9 58.7h.8M95.4 64.5h.8M93.5 52.9h.8M86.5 56.3h.8M98.9 53.8h.8M106.2 69.2h.8M103.5 56.9h.8M92.3 54.8h.8M93.3 52.5h.8M97.5 61.0h.8M98.4 57.8h.8M104.4 64.1h.8M92.3 62.1h.8M92.6 56.4h.8M88.0 58.7h.8M92.1 54.4h.8M87.5 58.0h.8M93.4 49.8h.8M100.8 58.0h.8M96.7 61.3h.8M102.2 67.1h.8M90.2 55.7h.8M81.1 60.4h.8M95.4 65.7h.8M95.8 49.1h.8M106.5 64.6h.8M95.5 59.2h.8M98.7 63.0h.8M91.1 54.7h.8M106.6 68.6h.8M95.3 49.8h.8M94.8 61.2h.8M96.2 53.2h.8M90.5 50.6h.8M94.7 62.6h.8M104.0 59.4h.8M95.3 61.6h.8M90.7 56.0h.8M111.1 67.2h.8M102.4 60.0h.8M98.0 51.8h.8M92.1 63.2h.8M109.0 71.1h.8M99.9 61.3h.8M90.0 55.6h.8M100.8 57.6h.8M103.8 58.0h.8M82.2 47.8h.8M83.8 46.8h.8M103.9 61.9h.8M94.1 63.9h.8M105.5 61.2h.8M104.4 65.0h.8M93.7 60.3h.8M84.6 50.1h.8M92.5 60.5h.8M91.8 56.6h.8M99.6 67.7h.8M98.3 66.4h.8M91.8 55.8h.8M97.6 58.5h.8M87.4 63.2h.8M94.7 53.9h.8M95.0 67.6h.8M92.9 63.7h.8M91.9 54.9h.8M89.3 55.4h.8M111.3 60.7h.8M109.4 60.6h.8M91.1 61.0h.8M99.0 62.0h.8M81.6 64.9h.8M92.4 58.5h.8M86.2 52.3h.8M82.4 57.6h.8M91.4 59.8h.8M90.0 54.0h.8M106.6 59.4h.8M86.2 52.5h.8M103.3 58.6h.8M102.8 59.1h.8M103.9 69.3h.8M91.1 55.9h.8M87.5 56.2h.8M106.4 57.0h.8M104.3 56.6h.8M91.0 48.2h.8M111.2 66.6h.8M97.7 56.7h.8M106.9 54.1h.8M90.6 67.4h.8M91.4 57.1h.8M101.4 57.8h.8M92.9 62.4h.8M95.4 60.7h.8M91.1 58.5h.8M92.2 64.5h.8M100.7 60.2h.8M102.2 57.7h.8M103.9 57.7h.8M90.4 57.7h.8M104.3 63.0h.8M94.7 55.9h.8M105.5 68.8h.8M96.3 52.6h.8M87.1 57.9h.8M87.1 59.4h.8M96.8 61.0h.8M98.8 62.9h.8M88.3 54.0h.8M115.4 62.4h.8M88.7 61.0h.8M94.7 54.7h.8M83.0 55.7h.8M100.0 67.9h.8M93.0 62.9h.8M85.9 55.3h.8M88.8 56.7h.8M98.5 65.6h.8M84.2 59.9h.8M92.6 52.6h.8M95.9 52.0h.8M94.0 59.7h.8M91.9 59.9h.8M92.0 57.3h.8M82.9 53.3h.8M88.5 53.5h.8M93.4 58.9h.8M84.3 46.1h.8M91.2 59.3h.8M95.7 63.4h.8M104.0 65.3h.8M96.3 54.3h.8M87.8 53.1h.8M96.2 60.4h.8M94.8 57.9h.8M99.1 61.7h.8M96.3 60.8h.8M92.1 52.4h.8M97.6 62.0h.8M93.5 56.0h.8M114.1 63.9h.8M92.3 58.7h.8M85.1 54.7h.8M107.1 68.9h.8M98.4 63.2h.8M93.6 62.7h.8M94.0 56.2h.8M93.6 62.5h.8M95.9 62.4h.8M110.7 72.5h.8M93.5 53.9h.8M98.5 55.6h.8M101.3 59.1h.8M99.6 67.5h.8M91.6 50.3h.8M90.0 55.3h.8M105.6 56.3h.8M99.1 70.5h.8M98.2 62.9h.8M96.6 53.8h.8M98.1 62.0h.8M95.6 71.5h.8M99.5 62.9h.8M109.5 58.9h.8M86.1 52.8h.8M88.0 58.8h.8M88.7 64.3h.8M105.2 67.2h.8M90.3 59.5h.8M103.0 57.3h.8M96.0 62.6h.8M93.3 65.6h.8M105.7 59.7h.8M97.0 55.6h.8M100.7 57.2h.8M101.1 63.5h.8M102.5 61.5h.8M90.6 63.3h.8M96.7 62.8h.8M108.5 66.7h.8M108.4 57.8h.8M101.9 60.8h.8M93.4 58.0h.8M94.2 66.4h.8M86.6 60.5h.8M90.3 58.7h.8M90.1 59.7h.8M103.3 60.7h.8M97.5 53.0h.8M95.3 63.1h.8M88.0 60.9h.8M84.3 51.4h.8M94.8 58.3h.8M92.6 61.1h.8M93.1 51.7h.8M105.2 65.8h.8M87.9 55.4h.8M99.1 66.5h.8M85.9 58.2h.8M94.5 63.8h.8M106.2 62.3h.8M82.2 54.7h.8M107.4 67.8h.8M91.9 68.9h.8M84.5 58.2h.8M89.9 56.6h.8M92.4 64.9h.8M88.0 52.9h.8M90.1 58.5h.8M86.6 53.1h.8M103.1 61.7h.8M98.5 62.9h.8M94.6 51.0h.8M102.0 62.8h.8M106.1 54.1h.8M85.6 59.4h.8M99.1 60.5h.8M94.1 62.0h.8M91.4 59.0h.8M99.7 50.3h.8M88.9 62.5h.8M91.6 56.5h.8M90.6 54.3h.8M104.0 61.6h.8M93.6 48.5h.8M103.7 53.5h.8M100.4 63.5h.8M86.9 58.5h.8M83.8 47.6h.8M85.1 48.7h.8M104.0 56.4h.8M87.1 50.4h.8M96.7 57.9h.8M102.7 58.9h.8M85.2 51.7h.8M96.5 54.9h.8M93.3 66.7h.8M89.7 56.5h.8M106.4 60.9h.8M89.7 50.9h.8M96.6 61.9h.8M93.1 58.0h.8M102.9 66.6h.8M83.2 53.1h.8M93.9 61.6h.8M93.8 54.9h.8M94.0 49.5h.8M95.2 55.8h.8M100.0 55.9h.8M92.7 52.7h.8M84.5 57.1h.8M89.8 58.3h.8M85.2 54.5h.8M81.7 50.0h.8M89.2 58.7h.8M96.0 58.2h.8M100.6 62.1h.8M97.1 63.2h.8M94.3 56.8h.8M97.6 57.7h.8M95.3 64.0h.8M101.7 59.8h.8M84.1 53.2h.8M91.2 62.1h.8M91.6 55.9h.8M101.0 59.0h.8M89.8 64.4h.8M104.9 66.2h.8M98.1 55.3h.8M98.5 60.4h.8M96.9 56.9h.8M94.5 57.4h.8M94.1 65.0h.8M100.2 52.9h.8M89.4 48.2h.8M86.9 57.4h.8M98.5 57.2h.8M97.7 56.1h.8M85.5 47.3h.8M84.7 60.6h.8M81.2 58.1h.8M105.1 62.3h.8M94.9 55.5h.8M92.8 60.6h.8M92.4 62.1h.8M103.0 63.9h.8M96.9 59.1h.8M99.0 55.0h.8M97.0 60.4h.8M83.3 63.5h.8M88.1 51.0h.8M100.0 51.4h.8M90.7 49.1h.8M86.7 54.0h.8M94.7 63.7h.8M98.4 65.8h.8M99.7 58.4h.8M104.0 60.3h.8M86.4 61.9h.8M100.0 61.9h.8M98.5 64.4h.8M83.5 52.6h.8M84.5 54.2h.8M86.3 61.0h.8M99.8 56.8h.8M96.3 53.2h.8M93.5 60.4h.8M99.8 51.4h.8M90.5 58.9h.8M94.4 63.8h.8M82.9 55.4h.8M88.6 56.4h.8M96.1 62.3h.8M89.2 56.7h.8M87.5 48.1h.8M98.7 59.9h.8M82.8 48.7h.8M91.4 64.3h.8M101.0 65.1h.8M97.2 61.4h.8M97.9 58.7h.8M105.4 70.5h.8M95.2 53.8h.8M111.5 63.5h.8M100.1 70.1h.8M86.1 55.7h.8M90.4 58.8h.8M93.1 67.0h.8M98.9 60.2h.8M103.6 61.2h.8M87.1 65.6h.8M88.5 53.0h.8M96.5 54.0h.8M88.9 53.0h.8M93.0 52.7h.8M85.3 54.7h.8M111.9 69.9h.8M102.9 54.8h.8M96.1 53.2h.8M100.7 60.0h.8M94.6 57.8h.8M92.3 49.8h.8M101.3 54.7h.8M85.3 52.5h.8M88.0 56.5h.8M101.7 62.8h.8M95.7 58.9h.8M104.4 53.9h.8M98.8 55.7h.8M84.3 53.5h.8M90.0 58.9h.8M107.2 52.9h.8M89.9 65.6h.8M98.4 67.0h.8M97.6 52.7h.8M83.8 56.7h.8M103.1 58.7h.8M91.5 58.1h.8M103.0 72.8h.8M89.9 64.9h.8M91.5 52.9h.8M86.8 66.0h.8M96.4 60.0h.8M91.5 56.1h.8M103.2 59.3h.8M94.2 60.0h.8M101.6 62.1h.8M108.3 63.5h.8M90.2 53.9h.8M101.7 62.9h.8M87.0 56.4h.8M97.1 62.8h.8M86.3 58.8h.8M109.9 63.3h.8M103.0 54.6h.8M94.1 59.0h.8M90.1 54.8h.8M97.4 68.0h.8M95.5 50.7h.8M103.2 65.2h.8M99.3 61.4h.8M112.6 67.0h.8M101.7 52.6h.8M90.8 53.2h.8M93.3 59.4h.8M85.0 62.2h.8M86.5 52.3h.8M98.4 54.0h.8M97.6 62.8h.8M88.3 64.6h.8M94.3 59.5h.8M89.6 47.9h.8M89.7 54.5h.8M89.1 59.5h.8M90.6 53.9h.8M83.7 57.6h.8M90.5 57.5h.8M96.3 61.8h.8M104.4 61.9h.8M91.5 60.4h.8M98.1 58.7h.8M95.5 56.3h.8M98.2 64.5h.8M90.7 65.6h.8M82.3 51.5h.8M108.7 62.8h.8M100.8 55.4h.8M102.3 56.9h.8M83.8 52.5h.8M92.4 52.0h.8M93.2 52.8h.8M94.7 58.3h.8M101.0 59.1h.8M86.0 47.9h.8M89.4 63.4h.8M102.2 58.7h.8M103.9 57.0h.8M103.0 60.4h.8M99.2 63.5h.8M91.4 58.4h.8M85.8 53.9h.8M95.2 78.6h.8M99.7 61.1h.8M84.1 58.6h.8M82.5 48.8h.8M99.3 54.7h.8M104.5 68.3h.8M90.7 53.8h.8M86.3 47.6h.8M96.6 62.3h.8M96.5 60.5h.8M89.1 57.5h.8M82.4 52.7h.8M103.5 68.9h.8M91.1 55.1h.8M101.9 70.4h.8M83.0 50.9h.8M93.8 63.9h.8M86.3 57.6h.8M87.4 66.5h.8M97.9 59.2h.8M89.6 61.1h.8M101.7 56.4h.8M98.5 53.6h.8M90.6 50.1h.8M84.9 50.5h.8M85.4 56.6h.8M101.1 60.2h.8M83.8 57.2h.8M98.8 63.5h.8M102.4 60.9h.8M85.1 51.4h.8M100.2 57.2h.8M91.2 49.9h.8M83.3 57.2h.8M100.0 55.2h.8M86.6 51.9h.8M100.8 55.5h.8M96.9 48.9h.8M83.4 55.1h.8M103.6 56.9h.8M86.5 58.5h.8M92.1 54.5h.8M98.0 60.9h.8M101.7 65.5h.8M89.8 55.5h.8M96.3 52.5h.8M84.6 58.4h.8M96.8 58.7h.8M97.7 62.1h.8M104.7 61.1h.8M92.9 56.3h.8M107.5 69.0h.8M87.5 53.4h.8M88.6 55.6h.8M91.7 68.2h.8M99.1 57.0h.8M94.0 55.6h.8M92.8 62.4h.8M88.5 62.8h.8M95.3 64.7h.8M96.8 64.7h.8M96.3 55.1h.8M98.3 63.6h.8M114.8 58.0h.8M90.7 61.7h.8M84.7 52.6h.8M108.6 71.8h.8M84.6 60.7h.8M102.3 65.8h.8M96.9 60.6h.8M88.3 52.9h.8M99.9 61.6h.8M109.7 63.8h.8M95.8 60.8h.8M96.4 55.2h.8M107.5 61.2h.8M100.5 59.8h.8M82.1 59.5h.8M98.5 58.5h.8M100.5 60.7h.8M86.7 65.2h.8M92.9 56.9h.8M87.1 51.3h.8M98.5 63.0h.8M95.7 55.5h.8M103.0 54.1h.8M92.1 56.1h.8M87.3 55.8h.8M90.6 52.7h.8M107.4 68.0h.8M103.9 63.0h.8M100.7 65.1h.8M99.7 72.4h.8M92.1 58.6h.8M83.3 53.3h.8M100.6 58.5h.8M101.1 67.8h.8M88.5 62.6h.8M107.6 66.8h.8M83.9 60.7h.8M93.9 56.4h.8M96.4 56.8h.8M101.6 65.6h.8M103.1 65.3h.8M88.5 54.9h.8M102.2 60.1h.8M118.2 68.4h.8M87.7 60.9h.8M100.5 61.2h.8M91.9 59.3h.8M99.7 64.6h.8M91.3 59.1h.8M99.8 64.7h.8M88.7 54.7h.8M94.2 62.8h.8M99.7 60.3h.8M91.4 65.6h.8M89.0 57.4h.8M106.3 65.7h.8M91.6 56.6h.8M102.0 64.3h.8M90.7 61.1h.8M97.8 60.5h.8M96.4 60.6h.8M92.6 55.4h.8M96.5 54.8h.8M82.0 59.0h.8M92.6 57.5h.8M93.4 58.1h.8M94.6 58.8h.8M86.3 59.2h.8M87.1 60.1h.8M81.2 47.1h.8M102.7 61.6h.8M88.5 57.5h.8M86.0 54.9h.8M88.3 58.2h.8M103.1 58.3h.8M108.4 62.1h.8M106.9 63.9h.8M90.7 53.1h.8M83.3 59.8h.8M90.5 65.3h.8M97.3 48.4h.8M101.9 60.2h.8M89.7 63.9h.8M90.2 62.2h.8M95.9 55.5h.8M99.7 58.0h.8M102.5 66.9h.8M93.9 61.2h.8M99.5 59.5h.8M102.1 60.9h.8M101.2 57.0h.8M94.5 60.5h.8M89.0 53.9h.8M88.9 59.4h.8M88.0 57.6h.8M106.0 65.6h.8M81.4 53.0h.8M103.4 61.3h.8M87.4 54.2h.8M84.4 51.1h.8M83.3 53.0h.8M82.2 57.2h.8M83.7 46.7h.8M82.2 57.4h.8M81.1 56.9h.8M83.9 60.2h.8M83.3 55.3h.8M82.4 57.5h.8M81.2 53.3h.8M83.1 54.7h.8M90.4 48.1h.8M85.2 57.6h.8M85.4 64.7h.8M81.9 57.8h.8M82.3 58.8h.8M82.2 52.1h.8M85.9 64.2h.8M84.8 53.2h.8M82.4 61.0h.8M90.5 57.5h.8M87.4 62.1h.8M91.0 57.1h.8M83.3 57.9h.8M83.0 59.3h.8M81.3 56.9h.8M81.8 55.1h.8M81.0 59.3h.8M90.1 55.0h.8M82.2 57.3h.8M85.8 53.7h.8M87.6 49.5h.8M86.4 53.6h.8M90.9 54.5h.8M84.9 57.1h.8M86.5 62.9h.8M85.8 48.6h.8M85.7 57.6h.8M83.3 45.9h.8M83.8 51.8h.8M94.5 54.5h.8M84.2 45.7h.8M82.0 47.7h.8M82.0 57.8h.8M86.3 57.4h.8M87.6 56.4h.8M84.3 53.0h.8M88.1 67.8h.8M89.6 56.2h.8M88.0 52.7h.8M83.5 65.4h.8M86.2 60.1h.8M81.4 55.1h.8M89.5 63.0h.8M84.7 57.8h.8M86.9 60.2h.8M82.3 58.2h.8M87.0 51.9h.8M83.8 61.9h.8M81.2 57.8h.8M82.6 52.0h.8M91.5 53.2h.8M85.5 61.8h.8M82.9 55.2h.8M84.2 57.2h.8M86.5 60.3h.8M85.2 57.6h.8M84.2 49.4h.8M82.3 60.2h.8M81.2 61.7h.8M81.6 61.3h.8M91.6 65.1h.8M88.7 58.8h.8M84.9 60.9h.8M84.5 64.9h.8M91.1 55.5h.8M82.5 65.7h.8M89.1 65.7h.8M90.4 60.9h.8M83.8 66.2h.8M82.2 61.3h.8M81.3 52.6h.8M85.8 62.7h.8M86.4 58.6h.8M83.0 59.1h.8M85.9 57.8h.8M83.3 63.8h.8M81.8 59.8h.8M83.4 53.5h.8M88.8 59.4h.8M89.7 60.6h.8M94.6 53.4h.8M84.5 54.8h.8M84.2 55.1h.8M89.0 54.0h.8M84.4 58.7h.8M88.3 62.1h.8M85.7 66.5h.8M82.1 63.0h.8M87.2 62.1h.8M83.9 62.7h.8M81.3 63.7h.8M82.1 55.1h.8M89.0 60.5h.8M83.6 58.6h.8M88.9 56.4h.8M84.6 54.7h.8M87.8 54.5h.8M82.4 55.7h.8M83.8 50.8h.8M89.3 59.6h.8M88.8 56.9h.8M81.2 57.5h.8M83.0 58.7h.8M86.0 60.6h.8M81.3 54.0h.8M82.6 56.5h.8M82.5 49.0h.8M81.3 45.9h.8M93.3 47.3h.8M89.0 64.7h.8M87.3 47.9h.8M93.7 59.4h.8M86.3 64.4h.8M85.6 54.7h.8M84.1 65.1h.8M86.1 66.2h.8M82.5 61.7h.8M86.3 68.9h.8M94.1 60.1h.8M84.1 53.4h.8M92.5 59.6h.8M86.7 54.8h.8M84.8 50.5h.8M86.3 50.6h.8M84.3 68.6h.8M84.9 54.3h.8M90.2 56.9h.8M87.4 53.7h.8M87.6 57.7h.8M89.6 55.8h.8M85.0 55.0h.8M86.4 51.0h.8M89.3 50.0h.8M81.4 53.3h.8M84.1 58.5h.8M88.5 67.4h.8M84.0 62.3h.8M82.0 59.5h.8M84.8 56.6h.8M85.6 50.5h.8M85.9 57.1h.8M84.9 46.4h.8M81.9 55.6h.8M92.7 65.2h.8M91.2 58.7h.8M83.0 62.7h.8M81.4 55.2h.8M87.9 50.2h.8M85.4 54.7h.8M83.2 55.1h.8M81.0 63.1h.8M84.9 67.0h.8M82.0 53.4h.8M90.1 55.3h.8M83.9 56.4h.8M92.6 55.4h.8M94.4 50.9h.8M89.8 57.6h.8M88.1 58.9h.8M82.6 59.1h.8M86.7 51.1h.8M88.4 56.6h.8M86.8 48.4h.8M86.3 61.7h.8M86.1 52.0h.8M83.3 55.8h.8M83.9 54.9h.8M87.7 54.2h.8M87.5 51.8h.8M83.3 48.3h.8M87.1 65.8h.8M88.9 58.4h.8M91.2 58.5h.8M89.5 67.6h.8M83.0 56.6h.8M83.5 59.9h.8M81.1 57.3h.8M86.6 63.1h.8M83.0 59.7h.8M87.3 58.7h.8M82.8 55.9h.8M93.1 58.6h.8M81.6 63.0h.8M87.7 46.8h.8M82.5 56.5h.8M85.4 55.1h.8M83.7 55.7h.8M85.1 47.3h.8M81.6 60.8h.8M85.7 52.9h.8M82.0 56.0h.8M81.1 54.6h.8M88.3 48.8h.8M90.5 54.9h.8M83.2 48.0h.8M85.2 52.5h.8M85.1 55.6h.8M81.8 57.1h.8M89.0 57.4h.8M82.7 56.5h.8M81.0 67.9h.8M85.3 59.3h.8M86.0 51.1h.8M82.4 54.1h.8M81.0 53.9h.8M81.3 56.3h.8M90.8 54.1h.8M81.7 52.9h.8M90.8 65.4h.8M88.2 57.4h.8M81.0 55.5h.8M86.0 55.9h.8M81.4 56.1h.8M85.7 64.1h.8M82.3 59.6h.8M86.1 62.8h.8M84.1 62.5h.8M85.7 67.0h.8M99.4 57.3h.8M82.6 48.6h.8M91.5 60.1h.8M81.7 54.2h.8M86.0 48.2h.8M81.3 54.1h.8M88.9 62.5h.8M90.9 63.2h.8M81.8 60.8h.8M81.2 51.9h.8M92.1 69.8h.8M84.6 51.3h.8M80.9 56.8h.8M83.8 50.0h.8M85.0 63.8h.8M100.0 59.4h.8M83.1 61.6h.8M91.5 57.6h.8M86.3 56.8h.8M82.9 58.1h.8M83.0 47.8h.8M81.2 62.2h.8M87.0 61.8h.8M83.9 55.2h.8M83.6 57.1h.8M88.9 58.7h.8M85.6 65.1h.8M83.0 59.4h.8M85.8 57.4h.8M83.6 54.7h.8M82.7 49.7h.8M82.0 57.6h.8M92.9 56.0h.8M84.4 57.6h.8M83.5 60.9h.8M85.1 59.4h.8M86.4 58.6h.8M81.8 60.5h.8M81.7 58.2h.8M83.5 57.1h.8M84.1 59.6h.8M86.9 48.6h.8M87.5 63.5h.8M81.9 50.8h.8M81.8 61.4h.8M94.8 57.3h.8M87.3 62.8h.8M82.0 57.4h.8M86.0 52.5h.8M81.6 62.6h.8M84.6 58.2h.8M81.7 57.8h.8M85.2 57.7h.8M88.4 62.3h.8M82.0 61.3h.8M81.9 58.4h.8M81.0 49.5h.8M83.1 55.2h.8M87.5 66.2h.8M85.2 59.2h.8M90.9 56.8h.8M90.9 63.2h.8M88.4 56.7h.8M86.5 57.1h.8M89.8 58.1h.8M85.0 49.8h.8M81.0 62.1h.8M91.8 59.4h.8M87.1 55.9h.8M85.7 51.6h.8M82.4 58.3h.8M81.6 64.3h.8M86.0 54.1h.8M83.2 52.0h.8M83.5 59.4h.8M87.0 49.3h.8M88.0 46.2h.8M89.0 55.1h.8M83.7 53.8h.8M82.6 55.9h.8M87.8 54.5h.8M87.4 58.9h.8M81.2 56.2h.8M81.9 54.3h.8M90.6 55.0h.8M83.9 60.4h.8M83.8 62.1h.8M87.9 61.8h.8M86.2 60.8h.8M88.6 52.3h.8M90.4 55.7h.8M88.8 58.3h.8M83.0 49.2h.8M87.8 64.4h.8M82.2 58.8h.8M83.4 54.2h.8M84.1 58.1h.8M95.9 55.6h.8M93.9 53.5h.8M88.1 59.8h.8M86.8 55.0h.8M81.6 50.2h.8M90.9 54.1h.8M83.7 56.7h.8M84.9 51.9h.8M82.2 63.6h.8M82.7 51.9h.8M83.3 66.1h.8M88.0 61.8h.8M81.6 52.6h.8M83.9 58.0h.8M81.0 63.2h.8M83.0 56.4h.8M86.2 51.4h.8M82.2 57.9h.8M82.5 67.3h.8M82.2 49.9h.8M86.3 60.1h.8M83.6 57.4h.8M85.9 56.7h.8M90.2 55.4h.8M84.1 55.7h.8M84.2 62.5h.8M85.5 60.3h.8M85.8 52.3h.8M88.0 65.1h.8M85.7 50.9h.8M85.0 60.7h.8M87.5 58.3h.8M83.5 59.1h.8M90.7 62.6h.8M89.5 57.2h.8M91.7 62.2h.8M82.2 59.1h.8M81.5 53.9h.8M85.2 63.3h.8M93.1 59.7h.8M82.8 58.2h.8M84.0 54.5h.8M91.3 59.6h.8M82.2 50.0h.8M85.8 50.5h.8M82.3 60.9h.8M87.8 49.6h.8M89.8 56.0h.8M82.7 58.6h.8M87.0 57.7h.8M84.5 59.5h.8M89.9 56.0h.8M91.1 55.5h.8M82.3 56.7h.8M85.9 62.6h.8M92.4 63.0h.8M81.0 63.7h.8M82.1 59.2h.8M87.4 56.4h.8M86.6 49.0h.8M83.0 60.6h.8M84.3 61.6h.8M84.8 55.4h.8M84.1 61.4h.8M91.9 63.8h.8M85.2 57.9h.8M81.5 62.7h.8M83.0 58.9h.8M83.2 48.7h.8M91.2 55.0h.8M89.9 55.3h.8M91.7 60.0h.8M87.6 53.1h.8M84.6 55.2h.8M86.1 52.6h.8M88.0 57.2h.8M85.0 57.7h.8M91.5 62.3h.8M91.8 61.4h.8M87.1 58.2h.8M83.5 58.6h.8M82.0 57.9h.8M83.2 57.9h.8M83.1 65.1h.8M84.4 45.0h.8M85.0 56.5h.8M88.1 58.9h.8M83.7 63.0h.8M85.9 51.9h.8M88.5 59.1h.8M81.6 61.7h.8M84.0 55.2h.8M83.2 47.8h.8M94.2 55.6h.8M84.0 51.4h.8M88.8 60.6h.8M87.2 53.1h.8M90.0 66.3h.8M91.9 58.1h.8M82.5 53.4h.8M83.3 54.9h.8M81.3 51.9h.8M88.0 59.3h.8M86.0 64.8h.8M89.5 56.3h.8M83.5 62.0h.8M85.4 52.7h.8M83.0 58.9h.8M85.8 68.9h.8M84.5 50.4h.8M84.1 63.5h.8M84.9 63.3h.8M91.0 48.0h.8M87.7 50.2h.8M83.0 52.5h.8M84.3 62.2h.8M82.5 55.2h.8M92.3 56.5h.8M85.0 60.9h.8M85.2 58.0h.8M81.7 58.5h.8M89.0 55.8h.8M83.9 53.5h.8M84.1 65.8h.8M81.2 55.7h.8M85.1 53.4h.8M83.3 60.6h.8M89.4 59.6h.8M94.5 47.5h.8M86.8 58.5h.8M83.6 50.6h.8M89.8 53.2h.8M85.1 61.3h.8M88.0 53.1h.8M81.3 59.1h.8M86.2 55.5h.8M83.3 67.0h.8M81.7 56.9h.8M81.3 51.5h.8M83.0 51.8h.8M93.6 52.8h.8M86.5 57.3h.8M86.3 62.2h.8M85.6 58.2h.8M88.0 58.0h.8M91.4 59.0h.8M86.3 56.7h.8M87.1 58.8h.8M87.5 61.3h.8M82.2 54.6h.8M98.7 48.5h.8M84.1 53.3h.8M91.4 58.7h.8M91.4 44.9h.8M83.9 54.9h.8M82.4 59.6h.8M84.2 54.5h.8M90.5 51.7h.8M91.3 66.1h.8M81.0 64.2h.8M85.9 56.0h.8M88.6 63.9h.8M80.9 63.8h.8M92.0 51.7h.8M88.6 70.7h.8M83.9 52.6h.8M96.4 56.0h.8M81.5 51.8h.8M83.0 57.7h.8M82.6 50.7h.8M81.1 57.3h.8M99.2 62.7h.8M82.0 58.3h.8M86.5 56.0h.8M82.2 65.0h.8M82.6 52.8h.8M82.6 62.1h.8M81.2 55.8h.8M85.3 58.3h.8M82.1 57.4h.8M87.9 57.9h.8M81.5 57.0h.8M83.5 53.3h.8M83.5 54.4h.8M87.6 59.5h.8M85.4 56.7h.8M86.6 51.4h.8M82.6 53.7h.8M92.6 53.8h.8M90.1 57.0h.8M81.0 58.1h.8M86.1 57.7h.8M84.7 54.0h.8M89.4 57.3h.8M84.0 50.4h.8M83.8 56.9h.8M82.7 52.5h.8M83.8 51.2h.8M83.5 60.3h.8M85.7 51.1h.8M81.1 58.6h.8M85.6 54.7h.8M91.3 51.0h.8M85.4 49.3h.8M89.4 59.5h.8M91.3 59.1h.8M82.2 61.0h.8M81.3 66.3h.8M88.3 58.5h.8M82.9 58.5h.8M85.4 56.5h.8M89.6 57.6h.8M84.1 55.4h.8M83.6 52.6h.8M83.3 67.1h.8M87.5 47.8h.8M84.0 58.4h.8M89.7 59.3h.8M89.6 57.8h.8M81.5 52.3h.8M87.7 56.1h.8M88.8 54.8h.8M87.6 51.7h.8M84.6 56.8h.8M93.9 55.0h.8M86.7 54.3h.8M82.6 60.5h.8M87.8 51.7h.8M94.3 59.2h.8M86.7 54.0h.8M81.1 59.2h.8M87.2 58.2h.8M82.7 52.1h.8M87.4 53.1h.8M86.5 52.7h.8M83.4 57.9h.8M88.1 60.7h.8M90.1 62.4h.8M88.7 54.5h.8M85.2 57.4h.8M82.6 48.9h.8M85.5 52.6h.8M85.6 53.6h.8M82.5 49.2h.8M83.0 48.1h.8M80.9 59.6h.8M85.6 52.9h.8M84.9 48.6h.8M83.8 68.5h.8M93.1 57.8h.8M93.6 55.3h.8M86.4 60.3h.8M82.3 53.1h.8M82.7 64.8h.8M83.8 49.2h.8M86.7 50.4h.8M82.7 56.2h.8M82.0 53.1h.8M84.5 63.9h.8M89.4 48.9h.8M82.6 53.2h.8M84.2 58.1h.8M83.7 59.7h.8M93.1 58.6h.8M81.9 67.8h.8M81.4 54.5h.8M88.1 57.7h.8M91.1 61.1h.8M83.2 55.3h.8M85.6 55.4h.8M83.6 54.5h.8M83.2 53.6h.8M84.4 51.2h.8M82.7 54.1h.8M89.7 49.1h.8M81.2 58.7h.8M82.7 48.9h.8M84.6 67.1h.8M83.4 65.3h.8M83.1 62.3h.8M85.9 55.7h.8M87.7 53.9h.8M85.3 62.9h.8M86.9 57.7h.8M83.4 59.6h.8M85.3 53.2h.8M86.0 62.1h.8M83.1 52.8h.8M81.1 57.3h.8M81.6 48.2h.8M95.1 53.5h.8M82.1 54.5h.8M82.9 54.5h.8M80.9 60.7h.8M82.2 56.4h.8M87.5 62.9h.8M92.6 44.7h.8M82.5 59.6h.8M90.3 59.3h.8M82.3 49.1h.8M81.5 50.3h.8M87.6 61.1h.8M90.7 51.4h.8M82.9 53.6h.8M98.9 84.4h.8M95.7 84.2h.8M105.0 90.2h.8M88.4 82.5h.8M101.1 84.8h.8M101.9 101.3h.8M103.9 99.4h.8M91.4 87.7h.8M100.4 90.3h.8M105.8 88.1h.8M97.4 99.2h.8M99.8 83.4h.8M89.8 96.3h.8M105.3 85.7h.8M88.3 94.5h.8M95.2 76.1h.8M94.8 87.1h.8M92.2 105.8h.8M104.9 95.3h.8M106.1 70.3h.8M107.6 83.9h.8M91.9 92.9h.8M102.6 75.6h.8M96.7 89.9h.8M94.7 90.1h.8M107.6 86.7h.8M89.8 90.5h.8M90.9 86.5h.8M102.1 98.7h.8M109.1 71.2h.8M98.2 101.3h.8M107.9 78.9h.8M84.5 98.5h.8M101.3 82.9h.8M98.1 96.4h.8M86.3 91.0h.8M98.1 81.9h.8M87.7 96.0h.8M95.2 86.4h.8M99.3 84.4h.8M100.5 80.2h.8M85.8 91.5h.8M97.7 101.5h.8M103.7 61.1h.8M96.0 100.1h.8M96.7 84.7h.8M90.4 86.0h.8M101.7 95.0h.8M103.7 75.9h.8M99.6 93.6h.8M105.0 81.9h.8M97.2 97.6h.8M98.4 80.4h.8M95.8 103.0h.8M104.6 89.4h.8M95.4 88.1h.8M91.4 91.8h.8M91.8 97.2h.8M102.1 97.0h.8M93.4 100.8h.8M103.6 98.8h.8M97.5 87.2h.8M101.8 83.4h.8M104.3 97.9h.8M109.9 88.1h.8M106.8 82.1h.8M93.4 86.7h.8M101.5 84.3h.8M100.9 84.5h.8M90.6 94.0h.8M107.7 87.2h.8M99.6 93.8h.8M99.5 76.5h.8M91.4 90.7h.8M104.3 80.7h.8M88.2 90.5h.8M102.8 94.1h.8M95.1 91.9h.8M94.6 81.9h.8M101.7 91.2h.8M91.2 95.1h.8M98.9 87.9h.8M98.6 92.8h.8M94.6 86.2h.8M98.2 97.0h.8M109.6 83.6h.8M100.8 100.0h.8M101.2 83.6h.8M104.6 87.9h.8M100.0 72.5h.8M100.1 84.7h.8M103.5 94.6h.8M96.5 80.9h.8M98.6 93.2h.8M97.5 104.3h.8M99.0 91.2h.8M109.0 91.4h.8M96.8 89.1h.8M102.6 74.1h.8M89.5 91.6h.8M104.0 81.5h.8M101.2 86.5h.8M94.0 89.6h.8M97.7 97.9h.8M107.3 92.8h.8M93.2 95.6h.8M101.6 102.1h.8M97.7 102.5h.8M103.3 77.5h.8M90.6 79.2h.8M88.7 89.8h.8M99.3 88.7h.8M100.4 98.9h.8M97.3 85.9h.8M89.2 91.3h.8M108.6 96.5h.8M98.0 97.2h.8M100.5 96.7h.8M99.1 85.9h.8M89.2 104.3h.8M101.9 79.3h.8M98.5 83.7h.8M96.9 86.1h.8M98.6 94.0h.8M98.1 96.0h.8M85.9 86.6h.8M95.0 90.0h.8M97.4 98.2h.8M99.5 95.6h.8M103.5 81.1h.8M89.0 101.8h.8M100.8 81.7h.8M95.1 96.9h.8M101.8 86.4h.8M96.9 82.7h.8M96.3 91.9h.8M87.9 85.6h.8M90.9 89.1h.8M111.8 81.7h.8M109.1 77.5h.8M101.6 96.5h.8M101.0 93.2h.8M92.2 96.5h.8M109.4 90.1h.8M109.9 95.4h.8M102.7 63.6h.8M93.7 88.2h.8M95.4 90.1h.8M103.3 92.9h.8M103.6 82.6h.8M99.3 90.3h.8M102.0 90.3h.8M101.2 91.2h.8M97.7 103.1h.8M106.3 75.5h.8M100.1 105.3h.8M82.3 86.2h.8M100.9 93.3h.8M106.4 89.6h.8M101.7 85.0h.8M85.5 104.5h.8M102.8 90.1h.8M91.7 97.5h.8M90.8 81.7h.8M90.1 106.3h.8M97.2 86.8h.8M96.9 103.0h.8M99.6 91.5h.8M98.5 83.4h.8M108.1 85.8h.8M106.9 89.7h.8M100.9 97.5h.8M94.7 85.5h.8M95.7 89.6h.8M97.0 95.0h.8M101.1 80.2h.8M91.7 85.7h.8M104.9 91.8h.8M104.2 84.2h.8M91.7 92.4h.8M91.6 87.9h.8M98.8 102.8h.8M104.3 102.0h.8M95.4 103.3h.8M95.1 100.5h.8M94.9 99.1h.8M95.8 90.4h.8M108.3 89.1h.8M100.9 97.2h.8M98.9 89.3h.8M96.1 66.3h.8M86.9 91.8h.8M96.3 92.3h.8M115.0 58.1h.8M112.1 77.6h.8M99.4 94.9h.8M106.0 76.1h.8M102.0 89.4h.8M88.8 101.2h.8M102.7 88.4h.8M93.5 97.2h.8M97.5 90.8h.8M101.9 84.4h.8M92.1 85.5h.8M96.3 99.9h.8M93.9 104.4h.8M92.0 93.9h.8M97.7 83.0h.8M92.0 96.0h.8M112.8 95.8h.8M102.6 94.3h.8M84.7 87.7h.8M98.2 76.2h.8M91.4 87.5h.8M91.9 98.4h.8M106.2 84.7h.8M98.9 96.4h.8M97.7 93.6h.8M102.3 90.2h.8M95.5 95.2h.8M99.9 88.5h.8M104.3 100.9h.8M100.6 95.9h.8M105.5 91.2h.8M91.5 89.2h.8M110.5 94.2h.8M94.2 83.0h.8M103.6 97.2h.8M92.2 101.9h.8M108.4 97.6h.8M104.1 95.7h.8M91.8 94.2h.8M105.5 82.9h.8M95.1 106.5h.8M97.9 83.3h.8M100.7 88.9h.8M93.7 93.1h.8M94.6 95.4h.8M93.2 101.6h.8M93.2 103.3h.8M92.9 88.6h.8M111.6 87.2h.8M96.7 75.7h.8M104.5 79.7h.8M95.3 89.3h.8M105.5 93.4h.8M98.5 84.6h.8M93.8 95.0h.8M110.2 89.4h.8M94.4 99.3h.8M93.2 91.8h.8M102.8 88.0h.8M87.8 100.1h.8M104.7 80.7h.8M97.9 84.6h.8M99.4 94.5h.8M91.0 92.0h.8M103.1 92.3h.8M99.9 101.5h.8M96.8 82.2h.8M98.3 90.1h.8M104.3 86.3h.8M86.7 98.4h.8M103.0 81.6h.8M101.8 87.4h.8M98.2 74.3h.8M98.5 79.0h.8M108.1 87.0h.8M95.2 103.0h.8M96.0 91.9h.8M93.3 87.5h.8M98.1 100.0h.8M98.9 81.7h.8M104.5 81.6h.8M91.6 97.7h.8M94.6 86.0h.8M105.3 76.8h.8M94.8 84.5h.8M91.0 96.2h.8M98.2 87.3h.8M99.0 93.4h.8M106.8 91.6h.8M92.6 89.6h.8M105.8 93.6h.8M96.6 95.1h.8M99.2 94.2h.8M95.4 86.2h.8M102.4 94.3h.8M107.3 82.9h.8M100.1 82.1h.8M101.8 95.4h.8M93.8 100.1h.8M89.5 105.2h.8M89.8 93.5h.8M97.0 83.6h.8M95.8 92.8h.8M102.9 99.7h.8M97.6 94.9h.8M91.2 100.3h.8M95.7 92.3h.8M97.0 95.5h.8M103.8 76.6h.8M96.0 90.5h.8M116.2 72.2h.8M104.2 87.0h.8M95.1 95.9h.8M99.9 88.7h.8M91.4 95.8h.8M102.0 86.5h.8M100.1 77.9h.8M92.1 84.9h.8M96.1 80.6h.8M92.2 100.1h.8M104.4 68.7h.8M96.1 102.0h.8M107.7 91.9h.8M85.7 97.4h.8M99.2 93.7h.8M105.3 89.6h.8M88.7 101.1h.8M102.2 93.2h.8M98.2 85.2h.8M99.1 100.9h.8M115.7 88.2h.8M106.0 95.3h.8M91.2 99.3h.8M93.6 94.9h.8M92.5 96.4h.8M96.1 89.6h.8M100.6 84.4h.8M105.9 93.5h.8M100.5 87.9h.8M98.8 90.5h.8M96.7 83.5h.8M110.7 84.0h.8M100.4 79.3h.8M90.3 102.8h.8M103.3 90.7h.8M96.3 91.1h.8M100.9 75.8h.8M107.1 83.1h.8M94.9 102.1h.8M91.7 92.8h.8M83.7 102.4h.8M98.2 85.8h.8M94.2 85.5h.8M96.0 92.3h.8M84.4 99.6h.8M100.9 86.8h.8M94.5 97.9h.8M110.2 88.6h.8M98.3 99.1h.8M106.9 72.3h.8M91.1 71.9h.8M104.0 77.8h.8M108.6 84.0h.8M102.9 79.9h.8M93.4 95.5h.8M100.4 91.4h.8M97.0 94.4h.8M103.5 83.5h.8M118.1 75.5h.8M91.3 98.7h.8M87.7 98.7h.8M95.6 83.3h.8M93.2 98.5h.8M99.8 82.6h.8M101.8 95.3h.8M102.6 87.2h.8M97.0 79.8h.8M96.2 86.9h.8M106.5 83.3h.8M101.3 102.1h.8M100.0 102.8h.8M94.9 86.5h.8M92.8 99.0h.8M94.9 88.8h.8M93.6 82.2h.8M98.5 90.3h.8M93.0 106.9h.8M81.2 95.4h.8M95.0 94.9h.8M99.5 81.4h.8M111.4 80.8h.8M109.4 83.8h.8M97.1 85.9h.8M105.9 86.8h.8M98.2 87.6h.8M96.0 105.1h.8M93.3 84.3h.8M102.6 91.0h.8M102.1 92.9h.8M94.0 80.4h.8M99.8 93.9h.8M109.1 85.5h.8M90.9 106.5h.8M107.4 86.8h.8M100.2 73.6h.8M91.8 91.0h.8M95.0 80.2h.8M107.8 82.2h.8M89.4 81.1h.8M99.7 97.7h.8M91.9 101.8h.8M102.6 93.1h.8M101.0 88.4h.8M96.9 94.0h.8M101.7 93.0h.8M103.1 94.1h.8M103.6 94.2h.8M103.2 91.4h.8M101.4 76.1h.8M98.0 89.1h.8M91.1 84.8h.8M96.6 91.1h.8M94.5 96.5h.8M99.7 106.6h.8M109.7 90.6h.8M89.3 95.1h.8M91.2 84.0h.8M95.8 86.7h.8M98.5 93.7h.8M108.1 94.0h.8M94.4 81.9h.8M95.5 78.8h.8M92.5 86.7h.8M102.0 100.3h.8M93.1 93.6h.8M94.8 94.3h.8M98.0 75.2h.8M96.7 102.1h.8M90.5 103.1h.8M102.8 80.5h.8M93.0 92.8h.8M92.0 96.8h.8M105.2 91.9h.8M99.3 80.7h.8M99.1 98.1h.8M89.3 104.9h.8M91.5 90.6h.8M96.3 99.6h.8M87.4 102.4h.8M96.3 96.1h.8M98.6 104.5h.8M95.8 92.4h.8M93.5 91.9h.8M100.3 101.3h.8M98.5 88.4h.8M98.5 80.3h.8M100.8 85.1h.8M98.7 99.7h.8M95.8 104.7h.8M96.9 98.9h.8M106.3 79.9h.8M95.7 95.5h.8M90.8 91.0h.8M94.2 100.0h.8M91.3 81.9h.8M100.4 92.2h.8M93.5 87.3h.8M95.9 78.9h.8M108.6 88.6h.8M100.4 88.4h.8M93.5 96.4h.8M93.4 102.8h.8M96.7 84.5h.8M92.1 97.4h.8M98.3 90.8h.8M97.9 91.6h.8M107.4 88.5h.8M89.2 101.2h.8M103.9 90.2h.8M106.8 87.9h.8M99.8 92.0h.8M97.3 86.1h.8M105.6 81.8h.8M99.7 81.4h.8M96.5 79.5h.8M86.3 81.4h.8M97.8 100.9h.8M97.1 94.8h.8M100.0 85.5h.8M101.1 87.8h.8M104.3 79.1h.8M91.1 102.6h.8M105.6 81.0h.8M99.4 95.6h.8M101.4 91.0h.8M87.4 102.1h.8M99.3 84.5h.8M109.0 92.0h.8M97.9 93.8h.8M92.7 94.0h.8M90.4 88.0h.8M103.1 94.0h.8M99.1 89.9h.8M104.0 86.5h.8M99.4 103.5h.8M95.3 99.3h.8M108.0 69.1h.8M102.5 75.7h.8M100.5 85.5h.8M95.2 85.2h.8M96.1 99.2h.8M87.8 102.0h.8M97.3 83.8h.8M89.0 95.7h.8M96.7 88.6h.8M97.5 88.9h.8M102.7 74.0h.8M98.7 91.0h.8M97.5 106.7h.8M97.6 90.8h.8M94.3 105.1h.8M104.4 94.2h.8M90.2 91.4h.8M93.9 87.5h.8M94.1 84.7h.8M96.3 91.2h.8M95.2 89.8h.8M94.6 97.3h.8M96.5 95.9h.8M85.7 87.9h.8M104.6 94.2h.8M102.0 89.4h.8M97.3 85.7h.8M96.9 103.7h.8M104.7 83.0h.8M101.5 87.9h.8M99.2 91.5h.8M99.6 91.2h.8M91.3 97.2h.8M98.4 85.1h.8M103.9 86.1h.8M89.9 93.7h.8M97.3 92.4h.8M95.9 97.4h.8M103.5 86.2h.8M83.4 94.5h.8M94.7 89.1h.8M107.7 90.5h.8M105.5 77.5h.8M110.2 84.9h.8M99.5 90.8h.8M101.0 83.4h.8M92.5 93.1h.8M95.0 89.1h.8M99.4 83.2h.8M109.4 81.0h.8M98.8 103.2h.8M103.3 96.9h.8M99.7 86.2h.8M97.8 83.7h.8M101.2 88.6h.8M99.5 92.6h.8M97.2 100.0h.8M96.7 101.9h.8M103.3 88.1h.8M110.9 101.7h.8M98.1 92.7h.8M102.4 99.8h.8M101.3 96.5h.8M96.3 98.9h.8M101.4 95.5h.8M93.0 90.9h.8M94.1 84.1h.8M98.5 99.9h.8M92.4 91.7h.8M102.3 89.7h.8M95.4 94.8h.8M104.9 85.4h.8M94.5 89.1h.8M92.0 96.8h.8M103.7 85.9h.8M106.3 90.8h.8M95.5 91.9h.8M106.3 97.5h.8M100.4 86.7h.8M112.7 73.6h.8M97.0 82.0h.8M98.5 85.3h.8M99.7 90.3h.8M99.9 95.5h.8M109.5 79.1h.8M90.1 84.2h.8M107.8 83.6h.8M95.6 90.7h.8M97.1 83.0h.8M96.3 81.3h.8M95.4 97.7h.8M93.4 102.0h.8M94.3 82.9h.8M99.3 81.3h.8M101.7 86.1h.8M94.5 92.7h.8M89.2 102.5h.8M103.8 99.9h.8M95.8 78.8h.8M102.7 84.0h.8M99.6 94.1h.8M98.9 82.4h.8M98.5 92.6h.8M96.1 98.5h.8M95.2 89.2h.8M97.2 97.5h.8M103.5 83.6h.8M99.3 98.6h.8M102.2 89.9h.8M98.7 78.6h.8M95.4 89.9h.8M105.2 101.4h.8M93.7 78.6h.8M97.7 85.4h.8M103.3 80.9h.8M98.8 91.7h.8M100.3 87.0h.8M97.3 91.5h.8M95.2 83.5h.8M98.2 89.8h.8M100.6 95.5h.8M92.4 99.7h.8M98.3 98.1h.8M97.3 93.9h.8M92.5 83.5h.8M96.8 84.7h.8M97.3 91.8h.8M105.2 85.0h.8M106.0 76.1h.8M94.7 92.8h.8M108.8 88.1h.8M97.3 86.0h.8M101.0 88.3h.8M95.4 88.2h.8M103.6 81.9h.8M93.7 85.9h.8M97.9 81.9h.8M100.9 85.5h.8M97.7 101.0h.8M100.4 103.7h.8M94.1 87.3h.8M98.0 75.6h.8M105.5 77.0h.8M97.6 91.6h.8M104.7 95.2h.8M90.5 84.9h.8M110.6 74.9h.8M93.2 98.1h.8M95.8 97.4h.8M101.4 87.3h.8M92.8 93.1h.8M101.4 82.9h.8M103.1 70.0h.8M101.9 83.7h.8M102.6 99.1h.8M95.0 87.1h.8M102.5 94.8h.8M101.0 102.9h.8M99.9 83.9h.8M112.1 82.7h.8M101.8 85.5h.8M112.6 78.2h.8M94.5 97.1h.8M96.1 90.9h.8M97.7 104.1h.8M99.6 89.5h.8M101.2 77.3h.8M99.9 91.0h.8M96.7 93.3h.8M101.5 83.7h.8M100.0 77.6h.8M92.7 85.3h.8M95.0 89.5h.8M107.3 80.5h.8M109.5 89.8h.8M107.5 79.8h.8M89.3 92.5h.8M97.0 89.5h.8M95.1 94.7h.8M100.0 106.7h.8M91.4 97.9h.8M93.0 81.8h.8M106.7 84.5h.8M92.5 90.2h.8M88.1 89.9h.8M104.1 78.8h.8M91.7 94.1h.8M108.2 88.5h.8M91.4 99.2h.8M95.6 105.9h.8M110.3 93.6h.8M96.2 90.1h.8M100.3 97.7h.8M96.5 105.0h.8M97.3 86.9h.8M100.6 99.7h.8M103.5 73.7h.8M109.2 89.4h.8M95.3 94.6h.8M93.6 99.7h.8M96.5 89.8h.8M88.4 92.7h.8M89.1 99.0h.8M98.7 83.6h.8M98.9 98.4h.8M97.2 83.7h.8M99.7 96.6h.8M96.1 85.2h.8M99.5 88.0h.8M98.7 78.9h.8M104.2 83.6h.8M100.2 100.6h.8M95.7 79.6h.8M100.5 71.1h.8M93.8 96.9h.8M104.5 84.9h.8M105.1 93.8h.8M107.1 89.7h.8M110.2 67.0h.8M95.3 99.1h.8M93.1 86.5h.8M93.2 99.0h.8M85.3 85.9h.8M102.6 82.0h.8M100.2 90.7h.8M94.7 98.4h.8M108.0 83.7h.8M99.1 85.5h.8M102.3 99.8h.8M98.7 84.7h.8M86.4 106.3h.8M95.8 86.8h.8M110.7 98.1h.8M96.7 76.8h.8M92.2 88.4h.8M93.2 105.0h.8M115.7 73.0h.8M97.1 88.8h.8M104.7 90.6h.8M83.9 98.2h.8M107.3 74.6h.8M106.1 76.9h.8M101.3 76.0h.8M108.5 89.2h.8M100.4 80.2h.8M98.9 80.9h.8M96.0 103.4h.8M108.4 79.9h.8M98.4 102.7h.8M99.1 83.1h.8M104.7 83.5h.8M84.6 101.5h.8M106.7 83.1h.8M99.4 85.2h.8M97.6 85.4h.8M93.2 90.7h.8M97.7 86.8h.8M106.1 83.4h.8M105.0 101.2h.8M96.8 100.7h.8M109.5 83.5h.8M110.8 82.7h.8M96.1 89.8h.8M100.5 76.9h.8M106.4 80.6h.8M88.1 100.3h.8M97.5 94.3h.8M101.7 81.0h.8M94.3 78.5h.8M98.7 85.2h.8M97.1 99.7h.8M105.7 73.0h.8M91.7 94.4h.8M106.2 72.8h.8M107.4 87.5h.8M98.2 78.6h.8M106.8 83.6h.8M105.9 88.1h.8M96.3 94.7h.8M100.7 96.3h.8M98.3 96.6h.8M93.9 99.2h.8M96.8 92.9h.8M98.4 88.4h.8M87.4 87.2h.8M99.9 79.0h.8M93.6 90.2h.8M98.0 79.3h.8M106.8 88.3h.8M111.2 78.4h.8M95.1 81.9h.8M109.9 81.5h.8M106.2 84.5h.8M96.5 88.1h.8M109.5 83.5h.8M99.5 101.0h.8M104.3 89.8h.8M105.6 90.1h.8M107.4 83.1h.8M97.8 103.7h.8M93.4 86.9h.8M94.7 80.7h.8M111.0 86.0h.8M101.7 96.3h.8M104.0 87.5h.8M96.9 102.9h.8M103.2 90.4h.8M104.6 92.3h.8M103.5 89.0h.8M105.2 78.5h.8M104.0 81.8h.8M98.4 84.2h.8M108.2 85.9h.8M102.8 92.3h.8M95.1 83.6h.8M107.1 89.8h.8M88.2 90.0h.8M96.6 86.6h.8M106.1 73.5h.8M95.9 88.4h.8M97.2 86.4h.8M95.4 97.4h.8M102.7 99.7h.8M94.3 99.6h.8M89.6 92.6h.8M94.9 70.9h.8M97.5 74.2h.8M110.8 94.1h.8M84.2 104.8h.8M105.0 79.0h.8M96.9 94.4h.8M96.1 98.3h.8M102.9 76.2h.8M105.7 91.3h.8M103.7 71.5h.8M97.4 86.0h.8M94.7 94.4h.8M88.0 91.3h.8M87.9 105.1h.8M105.7 91.4h.8M96.3 93.9h.8M105.3 85.8h.8M98.4 90.6h.8M104.5 73.1h.8M89.1 90.3h.8M99.4 85.5h.8M104.7 72.8h.8M106.9 85.0h.8M98.8 72.8h.8M105.1 76.5h.8M97.2 90.0h.8M95.9 92.4h.8M94.6 87.1h.8M110.4 95.4h.8M98.6 85.7h.8M101.6 73.5h.8M95.8 89.8h.8M101.9 93.4h.8M97.6 83.2h.8M99.0 91.1h.8M97.4 93.2h.8M92.7 94.3h.8M94.1 87.1h.8M99.7 85.8h.8M92.6 96.2h.8M96.5 93.5h.8M98.5 88.4h.8M102.9 100.3h.8M103.0 82.4h.8M104.3 82.5h.8M98.5 92.2h.8M114.0 69.5h.8M101.0 80.1h.8M112.5 89.7h.8M106.0 88.6h.8M107.0 80.6h.8M106.1 77.0h.8M97.8 84.2h.8M110.5 68.3h.8M106.4 91.9h.8M97.2 93.9h.8M96.2 96.4h.8M100.3 94.3h.8M95.6 89.6h.8M97.4 92.0h.8M101.8 96.2h.8M102.3 84.5h.8M97.2 101.0h.8M95.2 101.0h.8M96.3 88.1h.8M92.5 95.3h.8M105.4 72.0h.8M103.0 93.7h.8M105.8 88.6h.8M89.1 97.7h.8M111.3 61.8h.8M98.8 92.6h.8M96.9 78.9h.8M100.0 87.4h.8M102.4 84.6h.8M92.8 92.4h.8M91.6 101.2h.8M103.2 75.0h.8M100.3 84.3h.8M101.8 84.1h.8M103.8 97.0h.8M91.5 89.1h.8M100.5 93.8h.8M98.8 100.9h.8M112.3 88.1h.8M99.9 96.6h.8M90.8 102.9h.8M101.4 89.9h.8M98.4 90.1h.8M94.6 94.0h.8M102.9 88.5h.8M106.3 86.7h.8M94.6 76.0h.8M96.3 93.8h.8M101.8 97.5h.8M101.3 83.4h.8M105.7 91.6h.8M96.2 92.0h.8M104.7 83.3h.8M106.1 78.8h.8M99.1 82.4h.8M95.5 97.6h.8M103.0 81.9h.8M103.5 94.0h.8M103.7 92.3h.8M110.7 73.2h.8M104.9 83.1h.8M101.3 88.3h.8M104.6 91.6h.8M91.8 102.7h.8M97.3 82.5h.8M95.3 89.2h.8M104.9 88.1h.8M106.9 78.9h.8M97.6 96.3h.8M108.0 88.2h.8M95.8 106.5h.8M103.1 87.2h.8M104.2 83.3h.8M98.4 96.0h.8M102.9 79.6h.8M93.2 87.0h.8M100.9 79.1h.8M94.1 95.0h.8M94.6 96.4h.8M107.6 81.0h.8M111.6 81.3h.8M98.1 98.3h.8M115.8 82.4h.8M86.9 98.5h.8M99.1 85.2h.8M97.2 98.9h.8M85.0 91.4h.8M99.5 90.3h.8M106.0 86.6h.8M98.5 87.8h.8M88.5 91.8h.8M102.3 95.6h.8M111.4 88.9h.8M89.7 87.2h.8M107.1 85.3h.8M86.8 96.0h.8M103.0 90.1h.8M93.2 98.4h.8M90.3 93.7h.8M94.8 101.1h.8M94.3 91.5h.8M94.8 97.4h.8M96.6 100.1h.8M93.8 102.6h.8M102.7 93.4h.8M91.7 97.6h.8M108.3 96.4h.8M94.9 102.7h.8M98.0 96.0h.8M102.0 84.8h.8M101.2 88.3h.8M95.7 94.3h.8M91.1 102.9h.8M94.8 95.7h.8M103.5 84.7h.8M106.0 88.4h.8M98.3 89.9h.8M96.7 102.0h.8M108.1 82.7h.8M101.7 92.1h.8M111.2 86.3h.8M104.1 80.1h.8M100.0 89.5h.8M97.3 87.0h.8M98.3 82.1h.8M97.6 97.4h.8M95.5 94.2h.8M98.2 89.7h.8M101.6 86.6h.8M106.0 100.1h.8M101.9 95.8h.8M102.5 73.5h.8M95.2 87.4h.8M101.1 80.6h.8M101.2 102.0h.8M97.9 80.5h.8M104.1 80.6h.8M117.2 71.2h.8M95.5 94.0h.8M96.2 97.5h.8M102.6 91.2h.8M92.0 86.1h.8M102.7 99.8h.8M102.3 80.1h.8M97.5 90.8h.8M90.7 86.2h.8M98.9 81.2h.8M87.0 83.3h.8M106.2 91.0h.8M97.0 84.5h.8M98.6 105.7h.8M102.7 89.1h.8M93.9 90.5h.8M97.3 80.7h.8M94.0 78.9h.8M88.3 94.5h.8M95.1 75.3h.8M97.8 100.9h.8M110.4 92.9h.8M108.6 76.1h.8M92.4 80.3h.8M93.9 96.6h.8M91.4 88.5h.8M91.2 95.9h.8M104.8 82.1h.8M96.2 92.2h.8M96.5 86.1h.8M89.4 88.4h.8M106.0 86.5h.8M102.5 88.0h.8M110.1 91.4h.8M93.1 85.4h.8M98.4 100.3h.8M106.5 82.8h.8M102.8 83.4h.8M89.8 100.8h.8M90.2 104.2h.8M94.2 101.6h.8M88.6 87.2h.8M105.2 85.6h.8M94.3 101.9h.8M100.0 83.4h.8M102.9 83.3h.8M103.6 81.5h.8M100.6 92.5h.8M102.9 84.1h.8M93.2 92.1h.8M94.5 91.9h.8M100.3 88.7h.8M98.4 90.8h.8M107.0 92.1h.8M100.3 78.8h.8M98.6 85.8h.8M97.1 90.4h.8M89.6 92.3h.8M98.6 78.2h.8M98.6 85.0h.8M95.7 86.0h.8M97.2 91.8h.8M85.9 85.8h.8M100.9 84.6h.8M101.2 89.2h.8M91.8 91.3h.8M94.8 92.9h.8M116.0 75.6h.8M94.7 93.3h.8M102.6 88.7h.8M91.0 93.8h.8M111.0 76.3h.8M84.0 99.3h.8M96.6 97.6h.8M98.9 84.8h.8M93.6 104.2h.8M100.8 85.1h.8M99.5 95.6h.8M92.8 88.2h.8M92.5 86.5h.8M104.5 83.1h.8M95.9 99.1h.8M92.6 74.9h.8M106.2 95.0h.8M91.9 102.9h.8M92.8 102.1h.8M81.4 106.9h.8M97.2 95.0h.8M102.1 87.9h.8M106.3 82.0h.8M96.4 81.8h.8M113.9 98.6h.8M111.2 72.8h.8M106.3 86.1h.8M106.8 98.0h.8M96.7 93.2h.8M96.3 67.0h.8M91.3 83.3h.8M95.6 95.5h.8M98.1 93.6h.8M95.1 96.5h.8M92.1 99.4h.8M96.6 103.5h.8M97.1 102.8h.8M95.4 93.0h.8M103.6 80.3h.8M89.9 90.5h.8M97.3 88.8h.8M104.0 72.0h.8M112.9 76.7h.8M92.1 93.6h.8M102.9 78.5h.8M97.9 88.2h.8M92.0 99.7h.8M87.1 95.0h.8M106.5 96.7h.8M104.4 76.1h.8M101.7 90.2h.8M105.4 79.2h.8M94.7 93.4h.8M116.1 86.3h.8M85.7 90.9h.8M101.3 83.0h.8M105.4 91.8h.8M92.0 86.6h.8M95.6 100.8h.8M91.8 100.4h.8M91.0 102.1h.8M99.9 95.4h.8M102.8 78.2h.8M105.2 102.1h.8M103.1 88.4h.8M108.3 88.2h.8M105.9 83.0h.8M97.1 81.6h.8M95.7 95.2h.8M99.0 89.4h.8M99.9 87.6h.8M88.6 90.2h.8M104.8 84.3h.8M97.7 98.9h.8M100.5 86.9h.8M85.3 103.3h.8M104.5 99.0h.8M93.5 96.8h.8M91.8 98.7h.8M89.3 82.5h.8M95.6 88.5h.8M107.3 84.0h.8M99.4 79.0h.8M102.2 95.1h.8M91.4 89.8h.8M89.1 93.1h.8M91.9 81.4h.8M94.0 77.7h.8M91.2 86.4h.8M102.6 95.2h.8M109.6 83.4h.8M98.8 91.2h.8M102.6 89.6h.8M102.6 96.1h.8M105.7 89.9h.8M103.9 87.6h.8M93.6 95.6h.8M92.1 100.7h.8M102.2 93.6h.8M104.5 94.1h.8M89.7 75.4h.8M105.1 95.8h.8M92.6 97.1h.8M89.9 84.0h.8M96.0 87.0h.8M99.2 98.3h.8M113.9 60.5h.8M100.4 85.3h.8M97.1 97.0h.8M105.4 77.4h.8M100.8 81.9h.8M99.8 64.6h.8M103.6 86.3h.8M93.8 85.3h.8M92.9 99.5h.8M92.7 86.6h.8M97.3 100.7h.8M99.6 80.0h.8M92.1 94.6h.8M110.6 69.8h.8M103.4 93.1h.8M113.4 73.0h.8M92.5 102.4h.8M95.2 93.0h.8M91.8 99.9h.8M96.0 100.4h.8M91.4 86.6h.8M89.4 104.0h.8M103.5 85.7h.8M81.3 83.3h.8M92.7 92.9h.8M90.9 90.4h.8M93.4 92.5h.8M112.6 68.2h.8M97.4 91.8h.8M98.9 91.7h.8M96.8 93.7h.8M106.7 83.2h.8M106.5 90.6h.8M94.3 86.1h.8M88.1 103.9h.8M100.2 91.7h.8M99.7 79.6h.8M99.3 99.0h.8M100.6 78.9h.8M106.8 90.5h.8M99.4 87.3h.8M101.6 84.9h.8M90.2 91.5h.8M97.5 90.9h.8M96.5 77.9h.8M104.2 77.8h.8M98.1 77.7h.8M106.0 90.0h.8M91.3 85.9h.8M99.9 94.4h.8M85.6 99.1h.8M94.5 86.0h.8M95.0 81.6h.8M87.3 104.5h.8M99.8 75.3h.8M99.7 90.9h.8M100.4 101.0h.8M101.4 89.7h.8M83.0 100.9h.8M101.3 93.9h.8M102.9 76.8h.8M99.7 93.6h.8M100.2 75.1h.8M99.6 84.2h.8M101.3 95.0h.8M89.9 94.7h.8M100.9 84.4h.8M96.8 92.2h.8M98.5 85.1h.8M103.6 84.5h.8M110.7 80.2h.8M100.8 82.3h.8M95.9 87.9h.8M108.4 65.0h.8M107.6 88.5h.8M89.0 100.2h.8M91.9 91.4h.8M90.9 100.1h.8M107.2 80.6h.8M98.8 90.0h.8M95.6 106.2h.8M94.6 84.0h.8M98.3 88.0h.8M91.4 92.5h.8M91.1 93.9h.8M102.2 87.0h.8M98.8 87.0h.8M107.4 98.4h.8M100.2 87.3h.8M95.4 94.1h.8M86.8 97.3h.8M89.6 87.4h.8M107.5 85.4h.8M100.7 88.3h.8M101.1 90.2h.8M105.9 85.7h.8M105.6 74.7h.8M93.6 79.0h.8M91.8 88.5h.8M115.9 83.4h.8M94.0 82.5h.8M98.3 91.2h.8M104.9 90.9h.8M88.7 75.8h.8M101.3 77.2h.8M103.7 98.2h.8M90.5 89.4h.8M93.8 101.8h.8M109.8 85.7h.8M95.5 90.6h.8M102.5 75.0h.8M105.4 78.0h.8M98.3 87.6h.8M97.4 86.5h.8M95.3 95.7h.8M97.6 96.5h.8M97.6 88.8h.8M96.7 91.4h.8M105.3 75.0h.8M94.8 94.6h.8M100.1 83.9h.8M96.7 90.9h.8M101.2 89.6h.8M91.9 82.6h.8M81.0 93.4h.8M107.4 85.7h.8M104.3 79.2h.8M102.8 80.1h.8M90.2 87.7h.8M92.5 95.6h.8M110.6 86.0h.8M98.7 95.1h.8M95.7 86.0h.8M88.1 103.4h.8M91.4 101.9h.8M97.1 91.0h.8M100.4 92.7h.8M99.5 100.3h.8M92.4 104.8h.8M96.0 85.0h.8M95.7 105.4h.8M100.0 97.8h.8M101.5 83.5h.8M103.6 92.4h.8M95.2 84.8h.8M102.0 90.0h.8M100.3 88.9h.8M97.4 91.2h.8M87.7 95.0h.8M99.6 79.0h.8M91.8 84.8h.8M94.9 86.9h.8M104.8 62.2h.8M99.6 100.7h.8M92.2 75.6h.8M104.0 90.0h.8M97.3 102.3h.8M91.4 92.5h.8M94.8 92.2h.8M93.0 92.4h.8M101.5 82.6h.8M102.3 78.1h.8M100.4 87.4h.8M98.1 88.3h.8M106.7 94.9h.8M93.2 94.8h.8M100.1 94.4h.8M104.8 88.8h.8M94.7 102.3h.8M96.4 91.1h.8M89.2 84.3h.8M100.3 88.2h.8M92.6 102.3h.8M102.5 76.0h.8M99.7 84.6h.8M90.8 95.1h.8M103.6 96.5h.8M98.1 81.6h.8M101.7 81.3h.8M98.1 97.1h.8M87.1 94.5h.8M94.2 74.9h.8M92.9 82.1h.8M97.4 90.0h.8M85.8 89.0h.8M97.9 91.0h.8M94.8 97.7h.8M98.7 80.0h.8M93.7 85.4h.8M103.3 88.3h.8M112.6 70.9h.8M107.3 89.6h.8M100.2 101.1h.8M93.4 93.4h.8M103.9 81.3h.8M96.3 75.5h.8M97.0 86.6h.8M87.9 88.2h.8M103.2 82.6h.8M88.1 95.6h.8M102.3 100.7h.8M96.6 90.2h.8M100.6 85.9h.8M103.3 89.8h.8M104.3 89.3h.8M94.4 100.4h.8M97.9 93.4h.8M95.3 89.0h.8M102.1 95.2h.8M90.3 92.0h.8M105.8 87.2h.8M98.3 92.6h.8M94.5 96.7h.8M107.0 82.4h.8M97.9 88.2h.8M94.2 104.6h.8M105.8 88.5h.8M108.3 73.7h.8M96.8 79.4h.8M107.7 81.7h.8M107.3 79.9h.8M107.9 89.5h.8M99.5 97.1h.8M99.0 79.0h.8M96.6 100.7h.8M102.3 90.3h.8M97.5 82.8h.8M105.8 89.6h.8M96.1 92.3h.8M98.7 101.3h.8M99.4 70.4h.8M106.3 85.5h.8M94.9 93.8h.8M91.1 97.0h.8M102.8 90.0h.8M103.6 90.8h.8M93.9 85.6h.8M110.3 80.3h.8M105.1 99.8h.8M101.4 86.2h.8M93.7 68.1h.8M96.5 105.0h.8M93.3 89.8h.8M107.1 78.2h.8M90.9 99.2h.8M111.1 86.7h.8M88.9 89.2h.8M90.4 87.7h.8M105.1 98.0h.8M104.9 87.2h.8M103.1 85.5h.8M96.9 79.0h.8M102.0 94.7h.8M94.2 95.0h.8M111.3 83.0h.8M92.7 93.1h.8M102.7 85.4h.8M99.6 96.8h.8M101.6 85.3h.8M117.0 67.9h.8M107.3 85.1h.8M115.8 67.1h.8M98.0 96.6h.8M96.6 87.9h.8M101.4 88.1h.8M96.5 89.1h.8M94.3 79.2h.8M102.3 82.8h.8M88.3 82.1h.8M96.9 71.6h.8M99.1 98.5h.8M94.9 94.0h.8M103.4 89.4h.8M99.2 92.7h.8M97.5 84.5h.8M106.2 100.5h.8M102.1 99.7h.8M106.8 92.4h.8M99.4 96.3h.8M99.3 86.4h.8M96.5 85.4h.8M96.9 89.5h.8M101.6 83.0h.8M92.1 100.7h.8M94.3 88.5h.8M106.3 79.3h.8M98.6 80.8h.8M102.8 95.4h.8M95.6 102.7h.8M97.0 87.8h.8M94.2 86.5h.8M94.0 85.1h.8M101.4 103.7h.8M85.9 91.0h.8M99.0 79.7h.8M104.5 82.6h.8M105.1 74.8h.8M96.4 82.4h.8M107.5 91.7h.8M101.9 85.8h.8M89.8 105.7h.8M98.2 102.4h.8M98.2 96.8h.8M104.9 102.5h.8M95.5 100.0h.8M110.3 67.7h.8M99.0 98.5h.8M107.4 83.2h.8M97.2 88.1h.8M104.2 85.0h.8M102.9 103.5h.8M89.4 87.8h.8M112.3 81.2h.8M106.8 80.2h.8M100.6 99.4h.8M110.5 75.6h.8M101.4 74.2h.8M107.9 83.1h.8M85.3 98.8h.8M96.9 96.0h.8M99.8 85.3h.8M98.4 90.0h.8M102.6 90.2h.8M100.9 85.3h.8M98.0 86.4h.8M99.8 81.7h.8M105.4 75.5h.8M96.5 85.6h.8M98.8 93.0h.8M96.2 88.1h.8M95.0 99.7h.8M102.7 89.6h.8M102.5 78.2h.8M90.9 106.5h.8M85.7 102.7h.8M106.1 82.1h.8M93.6 93.8h.8M90.0 86.4h.8M99.4 84.7h.8M101.0 71.4h.8M99.7 79.5h.8M98.2 78.6h.8M99.9 82.3h.8M95.4 96.4h.8M103.2 86.4h.8M109.6 77.9h.8M89.7 106.0h.8M94.9 81.2h.8M95.5 100.2h.8M106.3 95.7h.8M103.3 88.1h.8M103.5 73.4h.8M94.2 87.4h.8M105.6 89.8h.8M104.4 77.7h.8M92.7 94.0h.8M94.6 102.0h.8M92.5 72.5h.8M94.8 104.3h.8M98.5 102.3h.8M103.2 83.2h.8M102.8 82.6h.8M110.8 88.9h.8M100.2 78.6h.8M95.1 96.0h.8M98.9 91.7h.8M100.4 96.3h.8M101.4 90.1h.8M102.6 90.9h.8M102.9 103.5h.8M103.0 87.6h.8M107.3 86.7h.8M103.5 83.7h.8M90.3 87.4h.8M98.7 87.0h.8M110.5 97.7h.8M92.6 105.8h.8M109.1 81.2h.8M97.8 75.9h.8M98.9 99.3h.8M107.1 96.0h.8M101.4 88.0h.8M99.8 85.1h.8M96.5 86.9h.8M96.9 88.7h.8M93.3 84.0h.8M96.1 103.5h.8M95.5 85.3h.8M93.3 89.0h.8M99.4 68.2h.8M102.0 72.7h.8M99.9 85.2h.8M102.9 94.9h.8M101.2 81.7h.8M106.7 102.1h.8M105.7 77.6h.8M99.9 92.7h.8M106.0 91.4h.8M96.0 97.9h.8M103.3 99.2h.8M106.1 73.6h.8M108.9 87.9h.8M93.7 89.9h.8M106.2 81.6h.8M106.3 94.6h.8M91.4 83.3h.8M100.6 86.3h.8M106.8 73.1h.8M101.1 92.2h.8M93.4 84.1h.8M98.4 87.6h.8M117.3 82.7h.8M90.4 96.9h.8M93.0 95.2h.8M97.2 95.5h.8M97.2 77.0h.8M84.3 98.6h.8M110.7 82.8h.8M85.4 99.0h.8M105.7 90.8h.8M104.5 81.0h.8M103.9 84.2h.8M107.3 98.6h.8M93.9 86.9h.8M89.9 89.9h.8M105.3 91.7h.8M100.5 102.9h.8M109.7 72.1h.8M90.8 97.5h.8M91.8 89.4h.8M93.5 99.7h.8M102.1 92.3h.8M104.6 104.1h.8M108.3 82.2h.8M106.0 99.0h.8M107.6 96.5h.8M99.2 78.0h.8M107.5 97.6h.8M102.7 80.3h.8M101.5 88.1h.8M95.6 95.6h.8M94.9 94.1h.8M96.6 83.2h.8M103.0 83.3h.8M107.2 84.8h.8M107.7 80.0h.8M101.5 82.8h.8M97.2 82.4h.8M102.5 93.2h.8M101.7 90.9h.8M102.6 101.7h.8M99.4 95.3h.8M104.3 91.7h.8M93.0 90.4h.8M90.7 105.2h.8M97.8 101.0h.8M93.8 71.8h.8M96.2 101.3h.8M106.0 79.4h.8M103.5 87.7h.8M110.3 88.1h.8M95.7 81.2h.8M98.9 94.0h.8M95.2 95.9h.8M94.0 92.4h.8M100.3 82.5h.8M91.7 97.3h.8M110.6 93.9h.8M108.3 90.5h.8M90.5 80.2h.8M96.7 84.1h.8M88.8 98.7h.8M98.5 70.2h.8M103.2 97.5h.8M93.4 79.7h.8M96.6 89.2h.8M102.7 92.8h.8M95.7 93.7h.8M95.8 72.4h.8M100.6 93.7h.8M91.5 98.8h.8M95.3 101.2h.8M101.3 96.7h.8M103.8 80.6h.8M99.5 93.3h.8M93.6 86.1h.8M105.0 80.6h.8M95.7 79.4h.8M113.9 86.6h.8M94.5 80.7h.8M99.4 89.0h.8M99.3 87.0h.8M99.1 84.0h.8M96.9 85.8h.8M105.1 90.9h.8M101.1 95.3h.8M94.2 96.3h.8M105.1 94.4h.8M102.9 98.9h.8M93.1 101.9h.8M106.7 83.0h.8M89.3 95.5h.8M96.5 78.9h.8M99.1 83.2h.8M111.5 94.9h.8M110.0 77.8h.8M95.8 102.3h.8M99.2 88.8h.8M95.9 73.8h.8M101.4 87.0h.8M105.5 100.0h.8M94.7 100.6h.8M88.5 83.7h.8M88.9 99.8h.8M107.5 84.7h.8M103.1 84.8h.8M103.6 96.7h.8M116.4 82.8h.8M106.5 85.1h.8M95.9 98.7h.8M99.3 102.4h.8M93.7 99.5h.8M93.9 95.6h.8M98.4 84.2h.8M95.2 85.3h.8M101.6 75.7h.8M114.5 85.5h.8M104.7 94.0h.8M99.5 94.7h.8M99.5 97.2h.8M99.1 102.1h.8M107.5 73.9h.8M107.4 102.5h.8M109.5 82.9h.8M101.0 94.7h.8M92.8 81.2h.8M100.8 83.9h.8M111.3 81.2h.8M93.8 93.8h.8M103.6 89.4h.8M97.2 92.9h.8M104.0 85.1h.8M105.3 79.8h.8M86.7 93.3h.8M100.9 81.6h.8M96.5 92.0h.8M91.2 102.6h.8M105.5 101.8h.8M100.1 85.1h.8M103.9 89.8h.8M95.2 95.8h.8M111.0 98.5h.8M89.4 84.3h.8M116.1 88.5h.8M113.9 106.2h.8M104.4 92.5h.8M95.7 94.0h.8M89.0 98.1h.8M96.8 100.7h.8M97.3 85.1h.8M99.1 88.9h.8M97.7 94.1h.8M94.2 86.8h.8M89.7 99.2h.8M107.1 91.8h.8M106.9 77.2h.8M103.8 81.4h.8M104.4 80.0h.8M99.4 85.4h.8M109.3 94.1h.8M94.6 100.4h.8M102.0 97.2h.8M104.9 72.6h.8M92.9 80.1h.8M98.0 91.6h.8M102.3 86.3h.8M91.3 97.5h.8M99.3 96.5h.8M103.1 101.9h.8M89.3 81.1h.8M106.9 74.9h.8M97.6 94.9h.8M93.0 106.5h.8M111.4 80.5h.8M92.7 90.5h.8M102.7 81.2h.8M103.4 89.3h.8M99.1 101.3h.8M89.6 102.4h.8M100.4 97.5h.8M104.1 83.8h.8M103.9 85.9h.8M88.7 85.8h.8M97.8 89.6h.8M99.8 91.5h.8M92.9 89.5h.8M83.0 98.8h.8M108.9 80.9h.8M92.2 101.4h.8M109.4 89.6h.8M97.6 95.6h.8M94.5 75.2h.8M95.9 96.3h.8M107.5 101.3h.8M103.7 82.4h.8M99.9 100.6h.8M98.9 82.8h.8M89.5 90.3h.8M103.4 92.6h.8M106.2 82.1h.8M99.3 80.9h.8M103.6 96.9h.8M96.6 83.8h.8M105.5 87.2h.8M102.5 83.7h.8M99.1 95.4h.8M106.7 74.8h.8M98.2 96.7h.8M95.3 101.5h.8M102.9 94.8h.8M105.1 91.4h.8M107.1 68.5h.8M98.1 98.5h.8M99.4 91.0h.8M99.6 96.6h.8M87.8 84.1h.8M99.8 92.8h.8M100.7 77.8h.8M101.9 99.8h.8M97.1 95.6h.8M104.8 87.3h.8M93.1 87.1h.8M100.8 79.7h.8M107.6 99.3h.8M96.9 79.4h.8M95.8 93.6h.8M85.8 92.1h.8M106.3 84.5h.8M97.8 86.7h.8M103.2 89.5h.8M93.0 98.5h.8M100.4 96.6h.8M93.1 84.4h.8M105.9 99.6h.8M95.9 99.0h.8M103.1 98.5h.8M96.4 89.4h.8M92.9 99.9h.8M105.8 84.0h.8M101.9 105.5h.8M92.4 89.6h.8M96.2 87.3h.8M93.3 93.6h.8M95.9 89.5h.8M94.8 106.5h.8M103.2 97.4h.8M104.3 86.6h.8M106.5 91.3h.8M92.3 90.5h.8M85.9 80.4h.8M98.6 93.7h.8M103.9 96.6h.8M102.3 83.9h.8M103.1 96.1h.8M94.0 95.0h.8M105.0 84.6h.8M105.9 71.2h.8M103.0 78.3h.8M114.5 80.2h.8M93.7 94.8h.8M96.7 102.5h.8M104.9 84.9h.8M89.9 99.2h.8M84.6 99.0h.8M85.1 98.3h.8M100.4 92.6h.8M101.2 84.3h.8M96.1 96.0h.8M99.5 84.2h.8M97.4 88.8h.8M96.9 94.8h.8M99.9 102.4h.8M95.0 105.0h.8M101.4 105.7h.8M98.0 80.3h.8M91.1 91.4h.8M100.7 91.5h.8M101.8 63.9h.8M100.7 77.5h.8M104.5 89.6h.8M103.2 86.1h.8M98.0 91.7h.8M105.7 91.4h.8M90.4 102.0h.8M88.8 98.9h.8M101.4 99.7h.8M114.5 74.0h.8M94.5 100.8h.8M96.6 101.2h.8M106.9 80.0h.8M101.5 81.9h.8M101.4 92.2h.8M102.0 77.9h.8M100.4 89.9h.8M102.7 80.4h.8M100.1 102.3h.8M102.4 87.2h.8M93.7 101.3h.8M81.4 100.6h.8M95.6 91.1h.8M108.6 88.3h.8M108.1 94.5h.8M100.5 97.0h.8M94.4 101.6h.8M96.4 92.3h.8M91.2 80.3h.8M95.0 87.1h.8M101.3 89.9h.8M95.4 92.4h.8M97.1 101.6h.8M98.5 97.0h.8M100.3 105.9h.8M100.8 101.8h.8M99.9 95.3h.8M101.8 92.9h.8M105.5 92.9h.8M105.0 85.6h.8M101.8 73.5h.8M104.3 78.6h.8M95.4 104.3h.8M106.8 95.8h.8M97.1 94.5h.8M89.7 83.5h.8M95.6 83.2h.8M113.1 81.4h.8M90.4 86.4h.8M100.4 88.8h.8M100.1 82.9h.8M93.3 100.3h.8M104.4 102.4h.8M92.6 94.8h.8M92.1 87.5h.8M96.3 93.7h.8M95.5 93.8h.8M106.0 80.0h.8M91.2 100.9h.8M98.3 81.8h.8M99.0 89.2h.8M100.0 84.9h.8M93.7 89.3h.8M95.4 84.6h.8M105.6 74.5h.8M102.0 93.8h.8M98.9 91.0h.8M94.8 88.8h.8M91.5 96.6h.8M100.0 78.5h.8M94.8 92.6h.8M111.9 88.4h.8M98.0 99.5h.8M97.7 88.2h.8M94.1 82.5h.8M103.3 83.1h.8M103.2 102.6h.8M108.3 85.1h.8M91.6 102.3h.8M100.0 96.1h.8M94.2 73.5h.8M98.2 89.5h.8M102.5 81.0h.8M92.8 100.8h.8M90.6 97.4h.8M96.4 88.5h.8M92.0 84.0h.8M114.6 72.3h.8M94.9 80.6h.8M109.6 97.3h.8M101.2 77.2h.8M110.0 82.1h.8M105.2 92.7h.8M96.7 85.5h.8M93.5 100.1h.8M95.7 78.0h.8M95.3 105.6h.8M100.9 95.6h.8M98.6 70.1h.8M106.4 104.5h.8M97.0 92.2h.8M105.2 90.4h.8M104.6 78.5h.8M97.3 92.9h.8M106.8 90.4h.8M108.9 93.0h.8M98.2 98.9h.8M112.5 77.4h.8M95.5 85.0h.8M95.2 96.0h.8M98.7 86.7h.8M89.2 101.2h.8M105.2 87.4h.8M91.4 101.6h.8M89.2 103.5h.8M113.1 58.7h.8M94.4 91.7h.8M84.3 96.4h.8M97.2 89.7h.8M96.1 73.1h.8M107.5 89.3h.8M95.2 105.5h.8M104.6 76.9h.8M96.3 85.8h.8M105.9 90.1h.8M97.3 91.3h.8M104.6 88.5h.8M92.6 104.7h.8M98.7 97.2h.8M104.5 81.5h.8M98.7 76.2h.8M92.0 91.3h.8M99.5 89.7h.8M91.7 88.9h.8M96.2 89.7h.8M99.8 84.0h.8M104.6 80.2h.8M90.6 106.1h.8M98.2 104.9h.8M104.3 77.2h.8M93.0 82.7h.8M89.9 88.7h.8M100.8 89.9h.8M109.5 87.9h.8M100.1 81.9h.8M102.4 90.5h.8M101.6 102.4h.8M101.2 81.5h.8M116.2 104.5h.8M107.1 84.7h.8M111.1 76.3h.8M103.3 89.8h.8M99.0 99.8h.8M95.0 104.6h.8M92.9 81.4h.8M100.4 70.2h.8M100.2 79.4h.8M96.7 85.7h.8M114.1 70.2h.8M111.5 78.7h.8M106.9 75.8h.8M103.1 77.9h.8M104.7 74.4h.8M98.4 73.7h.8M106.6 72.9h.8M105.5 74.4h.8M99.9 70.9h.8M101.0 73.8h.8M103.0 80.3h.8M99.6 65.7h.8M106.9 73.0h.8M103.6 86.9h.8M110.1 77.8h.8M108.0 75.7h.8M108.0 72.3h.8M101.2 73.0h.8M110.6 82.3h.8M101.6 80.5h.8M103.5 80.1h.8M102.8 79.5h.8M103.7 73.8h.8M104.0 75.9h.8M101.7 68.8h.8M111.1 73.3h.8M96.7 64.7h.8M92.6 72.3h.8M109.7 67.6h.8M102.8 66.7h.8M108.7 76.9h.8M105.5 81.4h.8M110.9 79.9h.8M101.8 69.0h.8M99.9 67.1h.8M111.6 74.3h.8M104.7 76.1h.8M112.5 72.6h.8M109.0 76.6h.8M103.5 66.3h.8M107.9 71.7h.8M102.3 76.2h.8M104.6 80.4h.8M101.4 75.9h.8M105.3 75.3h.8M107.0 74.0h.8M109.1 71.9h.8M98.2 75.0h.8M109.0 72.8h.8M101.6 73.6h.8M104.8 74.4h.8M105.5 67.2h.8M110.3 77.9h.8M100.6 81.5h.8M106.0 82.0h.8M99.3 82.9h.8M104.4 65.7h.8M107.3 73.8h.8M100.0 74.2h.8M96.2 77.9h.8M103.3 73.9h.8M110.0 75.4h.8M101.4 70.8h.8M103.9 80.1h.8M101.8 70.4h.8M108.0 75.5h.8M104.1 84.9h.8M99.2 76.1h.8M96.9 73.8h.8M106.6 80.4h.8M98.9 79.1h.8M107.4 74.6h.8M114.3 75.2h.8M100.5 77.2h.8M96.5 82.4h.8M108.2 73.3h.8M106.7 77.7h.8M112.1 72.3h.8M98.9 65.8h.8M103.0 67.9h.8M103.5 77.1h.8M102.3 70.8h.8M109.1 74.3h.8M105.1 79.6h.8M98.8 70.9h.8M114.5 74.5h.8M99.9 74.0h.8M101.8 69.5h.8M102.5 75.1h.8M104.1 77.7h.8M97.0 68.3h.8M107.4 73.1h.8M109.2 76.6h.8M98.4 77.7h.8M100.0 76.4h.8M109.2 85.0h.8M103.9 78.4h.8M105.4 78.8h.8M93.7 73.4h.8M105.4 77.4h.8M101.1 79.0h.8M108.7 75.5h.8M103.2 73.5h.8M104.7 80.6h.8M110.3 73.0h.8M100.3 71.5h.8M108.2 76.2h.8M105.4 77.4h.8M105.7 74.6h.8M99.9 72.3h.8M104.7 77.0h.8M102.6 73.3h.8M109.8 73.0h.8M105.1 73.7h.8M100.6 68.2h.8M102.0 71.4h.8M107.6 69.9h.8M102.5 78.2h.8M103.7 77.5h.8M107.6 67.5h.8M102.5 70.8h.8M109.7 74.6h.8M106.2 83.0h.8M102.7 75.5h.8M105.8 74.0h.8M109.3 78.9h.8M108.3 75.4h.8M102.8 73.6h.8M102.7 67.6h.8M105.6 78.9h.8M104.1 72.9h.8M104.3 76.2h.8M105.5 83.4h.8M100.7 76.8h.8M107.0 75.5h.8M103.2 70.5h.8M101.7 78.4h.8M110.1 72.2h.8M106.1 77.6h.8M108.3 76.3h.8M106.0 79.3h.8M99.4 75.4h.8M97.0 66.2h.8M100.8 68.2h.8M106.2 79.7h.8M102.9 74.5h.8M103.2 74.0h.8M104.7 76.8h.8M102.3 71.6h.8M102.0 78.8h.8M102.4 81.8h.8M103.2 81.4h.8M99.3 72.0h.8M106.1 77.4h.8M103.5 84.4h.8M104.4 76.5h.8M101.8 82.7h.8M107.6 77.0h.8M97.5 76.8h.8M102.3 76.9h.8M107.8 71.8h.8M105.0 79.1h.8M104.8 73.7h.8M99.9 72.1h.8M99.0 79.6h.8M104.6 69.7h.8M104.1 69.3h.8M90.9 80.6h.8M108.8 68.5h.8M101.2 76.1h.8M102.6 71.3h.8M102.1 74.1h.8M101.9 76.1h.8M103.2 71.7h.8M104.2 67.6h.8M109.9 67.3h.8M103.8 76.7h.8M105.8 76.3h.8M109.2 70.1h.8M103.8 75.8h.8M102.1 72.5h.8M109.3 71.9h.8M102.2 73.9h.8M103.3 75.9h.8M103.3 76.8h.8M104.7 77.3h.8M109.6 71.3h.8M110.7 73.1h.8M106.8 75.8h.8M102.9 66.3h.8M110.5 71.7h.8M101.0 79.9h.8M104.4 83.7h.8M110.8 78.3h.8M105.1 78.5h.8M98.8 75.9h.8M104.7 73.0h.8M105.1 68.6h.8M107.7 80.9h.8M98.9 75.8h.8M110.2 77.0h.8M100.0 70.7h.8M107.5 83.3h.8M99.8 75.3h.8M101.0 73.8h.8M105.3 74.9h.8M101.4 84.5h.8M103.5 74.3h.8M108.5 75.1h.8M103.3 79.3h.8M100.0 78.4h.8M108.2 78.0h.8M103.4 75.1h.8M97.3 74.5h.8M105.2 79.0h.8M104.6 73.4h.8M100.8 74.9h.8M104.6 80.5h.8M104.1 72.9h.8M103.7 72.9h.8M103.1 65.2h.8M97.8 69.8h.8M105.9 74.7h.8M104.7 80.3h.8M99.9 80.2h.8M105.6 71.9h.8M110.0 68.7h.8M99.6 74.2h.8M105.7 74.2h.8M95.6 73.8h.8M103.7 86.4h.8M109.5 75.6h.8M99.8 76.6h.8M99.5 76.0h.8M105.5 73.3h.8M105.1 73.6h.8M101.8 81.9h.8M106.4 73.7h.8M101.0 75.9h.8M106.3 78.9h.8M109.9 77.1h.8M99.6 84.1h.8M108.6 78.8h.8M109.3 68.5h.8M102.6 72.8h.8M108.8 69.8h.8M102.8 81.8h.8M106.6 73.4h.8M111.5 69.2h.8M105.8 74.1h.8M106.1 73.8h.8M100.8 76.0h.8M98.9 77.4h.8M102.8 79.2h.8M102.3 72.1h.8M105.6 80.5h.8M95.9 75.6h.8M106.5 68.7h.8M100.6 77.9h.8M100.8 72.2h.8M110.8 70.9h.8M100.6 64.8h.8M99.7 69.6h.8M110.8 80.4h.8M99.1 83.8h.8M107.1 74.2h.8M107.2 76.7h.8M101.0 67.2h.8M100.5 75.0h.8M102.6 71.8h.8M107.9 70.3h.8M107.5 72.9h.8M104.5 70.1h.8M104.0 71.6h.8M97.2 74.9h.8M103.8 78.7h.8M105.2 70.5h.8M101.6 64.0h.8M99.6 80.8h.8M110.0 78.4h.8M105.2 77.6h.8M105.9 67.3h.8M100.6 80.3h.8M108.7 76.1h.8M102.8 73.3h.8M101.9 70.9h.8M96.4 75.7h.8M102.2 74.1h.8M110.8 77.7h.8M101.3 77.6h.8M98.1 79.7h.8M105.1 74.2h.8M106.3 81.5h.8M102.2 70.6h.8M112.4 75.1h.8M109.9 72.0h.8M105.5 72.2h.8M106.5 73.8h.8M101.4 81.9h.8M105.4 66.0h.8M103.1 70.9h.8M99.2 72.4h.8M102.1 75.2h.8M100.9 66.7h.8M101.9 78.9h.8M98.6 77.8h.8M105.8 73.0h.8M105.2 71.7h.8M102.4 70.5h.8M105.9 81.1h.8M101.3 80.4h.8M95.5 71.1h.8M100.0 82.7h.8M101.7 78.5h.8M95.9 75.5h.8M106.3 74.8h.8M93.2 75.8h.8M107.2 80.9h.8M105.6 67.4h.8M103.2 79.1h.8M100.7 77.5h.8M102.1 75.4h.8M107.0 71.8h.8M115.4 75.7h.8M105.4 71.7h.8M104.2 73.8h.8M98.2 68.1h.8M105.1 74.6h.8M93.5 65.4h.8M102.8 74.7h.8M106.4 69.4h.8M106.4 73.6h.8M102.0 74.4h.8M107.9 77.5h.8M107.6 71.9h.8M102.9 69.8h.8M101.8 73.2h.8M102.1 78.2h.8M105.7 78.4h.8M104.5 79.8h.8M104.5 79.3h.8M106.0 78.3h.8M103.7 69.4h.8M98.2 83.8h.8M105.6 77.0h.8M103.3 72.9h.8M115.5 70.0h.8M103.7 74.8h.8M99.5 69.3h.8M101.2 73.5h.8M102.1 78.7h.8M86.9 62.3h.8M83.0 86.5h.8M88.3 62.1h.8M85.5 75.5h.8M86.7 80.0h.8M95.8 74.6h.8M85.2 80.6h.8M83.5 78.3h.8M83.9 84.5h.8M87.4 73.3h.8M83.0 79.6h.8M81.5 71.9h.8M86.2 80.9h.8M82.6 93.9h.8M83.2 63.4h.8M83.5 106.9h.8M86.4 68.7h.8M82.1 97.6h.8M88.5 74.9h.8M84.5 65.2h.8M85.2 97.5h.8M85.2 87.4h.8M83.0 73.8h.8M81.3 79.1h.8M82.2 100.9h.8M81.6 93.8h.8M84.2 74.5h.8M83.5 72.7h.8M91.4 87.5h.8M84.6 67.4h.8M83.7 72.3h.8M90.8 98.2h.8M92.9 94.6h.8M81.2 63.2h.8M81.9 82.1h.8M86.4 79.9h.8M86.7 95.2h.8M81.9 81.2h.8M85.2 72.2h.8M83.0 99.9h.8M87.9 70.7h.8M84.4 91.1h.8M92.0 74.7h.8M86.8 89.8h.8M83.2 69.8h.8M81.2 101.4h.8M83.8 78.6h.8M87.1 92.6h.8M85.3 95.7h.8M86.3 83.0h.8M82.1 86.3h.8M84.8 67.3h.8M87.1 86.3h.8M81.8 85.9h.8M87.5 102.3h.8M89.6 77.8h.8M83.9 68.9h.8M83.2 80.3h.8M82.2 97.3h.8M82.2 62.5h.8M89.5 63.6h.8M81.9 106.9h.8M88.1 87.0h.8M82.0 94.3h.8M81.5 83.0h.8M86.7 70.8h.8M81.6 92.0h.8M82.9 72.9h.8M82.5 82.3h.8M82.9 71.5h.8M88.0 102.9h.8M86.0 79.7h.8M81.9 93.2h.8M83.9 70.2h.8M82.0 89.4h.8M83.1 75.3h.8M84.6 67.3h.8M82.2 76.2h.8M87.1 64.9h.8M82.3 89.1h.8M88.1 87.0h.8M84.1 100.4h.8M90.0 63.2h.8M85.1 80.4h.8M86.9 106.3h.8M82.2 77.6h.8M84.7 64.6h.8M81.5 98.0h.8M88.9 66.2h.8M83.1 94.1h.8M91.6 85.7h.8M81.7 101.5h.8M83.8 85.1h.8M82.7 92.6h.8M81.7 73.6h.8M82.6 106.2h.8M83.4 71.4h.8M92.1 99.6h.8M81.1 92.7h.8M81.9 83.7h.8M84.3 78.8h.8M87.6 65.8h.8M89.0 97.7h.8M84.3 72.2h.8M90.3 101.3h.8M88.0 102.0h.8M85.3 71.5h.8M82.5 75.1h.8M86.8 94.0h.8M81.2 96.4h.8M81.1 64.2h.8M86.6 99.2h.8M84.7 98.7h.8M82.9 90.0h.8M81.3 102.1h.8M82.4 105.9h.8M84.1 71.2h.8M89.6 104.4h.8M89.2 100.8h.8M84.4 88.4h.8M82.1 67.0h.8M86.0 105.3h.8M92.6 95.4h.8M89.6 78.7h.8M83.0 76.5h.8M90.4 104.8h.8M81.6 72.4h.8M83.6 98.9h.8M92.6 82.0h.8M86.3 93.4h.8M83.1 99.0h.8M82.3 66.5h.8M88.3 73.7h.8M84.0 67.1h.8M84.9 80.1h.8M83.0 68.4h.8M87.1 103.2h.8M82.2 97.4h.8M81.9 88.2h.8M86.8 70.6h.8M85.3 71.5h.8M84.9 88.6h.8M85.8 102.8h.8M83.3 104.0h.8M82.2 103.8h.8M83.5 76.5h.8M83.4 93.4h.8M83.4 85.3h.8M84.0 87.0h.8M87.6 92.5h.8M84.5 75.3h.8M82.1 74.0h.8M81.5 80.6h.8M86.3 72.5h.8M89.4 100.7h.8M82.1 78.5h.8M83.0 63.7h.8M85.8 90.5h.8M82.3 106.4h.8M83.0 86.7h.8M86.6 74.7h.8M86.6 102.6h.8M87.9 90.3h.8M86.0 89.9h.8M83.0 82.7h.8M85.7 96.7h.8M85.4 92.2h.8M84.7 86.6h.8M85.2 77.0h.8M82.4 97.3h.8M90.3 103.0h.8M87.2 66.1h.8M85.2 63.2h.8M88.0 66.5h.8M85.9 101.3h.8M92.5 89.8h.8M84.1 79.9h.8M81.8 105.9h.8M82.6 104.5h.8M83.6 81.1h.8M81.4 78.6h.8M81.8 86.0h.8M88.7 88.7h.8M90.1 99.9h.8M86.6 101.5h.8M82.4 74.8h.8M86.4 100.4h.8M84.9 65.5h.8M81.1 71.4h.8M89.2 80.9h.8M82.4 65.4h.8M86.3 77.6h.8M82.5 63.2h.8M82.2 98.3h.8M84.6 92.4h.8M82.1 73.7h.8M82.0 85.5h.8M85.9 79.5h.8M82.4 98.9h.8M83.5 75.2h.8M86.9 72.6h.8M81.1 96.9h.8M87.1 96.0h.8M85.6 93.7h.8M82.8 64.9h.8M83.5 63.9h.8M84.0 103.9h.8M83.3 105.8h.8M88.2 71.2h.8M81.3 84.1h.8M87.6 82.9h.8M82.4 74.8h.8M87.1 65.5h.8M85.9 73.4h.8M82.0 105.2h.8M86.3 81.9h.8M84.4 71.3h.8M83.9 65.4h.8M85.7 91.1h.8M84.6 99.8h.8M83.1 73.3h.8M88.4 96.0h.8M85.5 63.0h.8M85.2 67.8h.8M85.0 90.7h.8M88.0 66.2h.8M83.1 82.9h.8M82.4 83.8h.8M82.1 63.3h.8M83.5 99.0h.8M82.3 95.2h.8M85.3 97.6h.8M82.2 91.4h.8M81.3 74.7h.8M83.8 93.3h.8M88.4 87.7h.8M84.0 90.1h.8M81.7 95.8h.8M86.1 75.0h.8M83.9 103.1h.8M81.5 82.8h.8M82.9 76.2h.8M83.7 85.8h.8M81.4 105.8h.8M87.8 93.7h.8M92.5 66.3h.8M86.0 74.4h.8M83.8 92.3h.8M88.5 105.1h.8M81.1 86.2h.8M84.7 86.3h.8M83.9 62.0h.8M82.3 68.9h.8M81.1 98.3h.8M85.6 72.9h.8M84.3 86.1h.8M86.5 92.7h.8M83.6 88.8h.8M90.0 96.5h.8M83.8 91.0h.8M82.3 75.9h.8M89.1 88.4h.8M90.5 93.3h.8M91.6 65.1h.8M88.2 105.5h.8M86.8 89.9h.8M89.4 105.9h.8M82.2 100.8h.8M83.2 63.4h.8M81.5 65.7h.8M82.6 100.5h.8M85.5 73.1h.8M81.7 103.0h.8M86.6 106.1h.8M82.7 96.6h.8M82.9 90.1h.8M84.8 81.8h.8M82.3 102.9h.8M83.1 90.3h.8M81.1 66.2h.8M85.7 94.7h.8M82.2 76.9h.8M83.0 68.1h.8M88.1 78.5h.8M82.8 100.6h.8M85.1 95.4h.8M85.2 79.1h.8M83.1 99.1h.8M85.8 87.2h.8M87.7 77.2h.8M83.2 66.6h.8M84.6 92.7h.8M84.1 73.1h.8M86.5 84.8h.8M83.5 72.8h.8M86.0 90.4h.8M82.1 64.6h.8M81.6 74.5h.8M83.2 90.1h.8M83.5 99.9h.8M83.9 94.8h.8M82.9 75.0h.8M81.5 79.9h.8M81.5 84.6h.8M84.1 104.6h.8M81.2 70.0h.8M87.8 97.5h.8M84.9 67.1h.8M86.5 99.8h.8M90.5 67.0h.8M81.6 79.2h.8M86.9 78.6h.8M87.4 92.0h.8M86.3 76.2h.8M85.4 98.3h.8M82.5 106.3h.8M86.0 94.3h.8M81.4 63.0h.8M83.1 66.3h.8M83.9 98.2h.8M84.0 80.4h.8M81.6 85.1h.8M86.1 100.0h.8M83.3 94.1h.8M86.9 85.7h.8M82.3 75.5h.8M81.5 65.6h.8M88.4 67.1h.8M88.1 64.4h.8M84.4 80.0h.8M85.8 104.6h.8M82.2 67.0h.8M94.9 85.2h.8M88.7 89.7h.8M94.2 104.4h.8M82.9 106.8h.8M83.1 91.5h.8M86.3 88.1h.8M82.0 93.8h.8M82.6 81.6h.8M85.9 97.1h.8M85.7 99.7h.8M81.7 71.7h.8M85.1 85.8h.8M82.1 76.1h.8M89.9 67.6h.8M83.5 80.9h.8M86.8 89.2h.8M87.4 85.3h.8M85.8 79.3h.8M82.5 87.0h.8M82.2 84.7h.8M89.5 63.2h.8M89.8 93.1h.8M86.1 97.5h.8M84.1 82.8h.8M90.1 91.3h.8M82.8 72.9h.8M90.9 94.8h.8M85.1 82.5h.8M86.8 90.8h.8M85.7 92.3h.8M82.2 81.4h.8M88.5 70.4h.8M90.9 104.2h.8M83.8 99.3h.8M91.5 79.2h.8M90.2 79.0h.8M83.4 100.1h.8M81.7 95.9h.8M82.6 74.5h.8M84.1 99.0h.8M91.0 77.2h.8M82.8 99.9h.8M90.0 67.0h.8M81.8 104.6h.8M87.6 78.5h.8M85.0 103.4h.8M82.6 73.1h.8M81.9 78.8h.8M86.3 73.4h.8M81.2 88.4h.8M85.1 73.4h.8M83.6 92.4h.8M82.2 92.6h.8M82.9 96.5h.8M82.4 82.4h.8M84.7 81.3h.8M81.7 73.3h.8M81.1 83.9h.8M83.9 85.8h.8M81.7 74.5h.8M89.9 87.1h.8M94.3 69.7h.8M84.4 80.8h.8M81.4 76.6h.8M83.4 86.0h.8M83.5 96.9h.8M83.0 63.4h.8M83.6 81.8h.8M83.2 66.5h.8M87.9 78.0h.8M85.7 95.1h.8M86.9 90.6h.8M89.9 94.2h.8M87.7 98.6h.8M86.4 77.3h.8M81.9 78.8h.8M88.1 70.5h.8M89.5 76.7h.8M88.8 89.8h.8M81.6 92.2h.8M82.6 94.0h.8M88.1 86.2h.8M90.1 64.3h.8M85.9 91.0h.8M84.7 100.1h.8M81.3 101.3h.8M84.6 63.0h.8M81.6 79.0h.8M81.2 84.1h.8M84.0 90.1h.8M81.7 97.8h.8M82.1 63.2h.8M85.6 102.5h.8M84.1 81.6h.8M83.3 105.5h.8M82.3 97.5h.8M84.8 79.8h.8M84.2 104.8h.8M83.6 82.9h.8M81.1 66.9h.8M84.9 71.0h.8M85.4 86.1h.8M93.4 96.1h.8M85.2 76.0h.8M88.8 104.2h.8M85.0 73.5h.8M85.8 106.0h.8M87.4 91.2h.8M87.0 95.1h.8M85.1 79.4h.8M85.2 85.9h.8M88.3 77.9h.8M84.6 84.7h.8M83.5 99.9h.8M86.3 96.5h.8M84.2 99.1h.8M82.9 80.6h.8M87.0 75.4h.8M87.0 88.6h.8M85.9 104.9h.8M83.4 93.8h.8M82.7 72.5h.8M81.1 97.7h.8M81.9 101.9h.8M85.1 95.2h.8M81.2 94.7h.8M82.9 92.5h.8M88.6 87.5h.8M82.6 79.7h.8M90.1 94.3h.8M89.8 81.0h.8M87.8 70.0h.8M84.4 102.3h.8M86.4 103.2h.8M90.9 67.7h.8M85.6 98.2h.8M89.1 89.9h.8M82.2 76.9h.8M92.9 76.8h.8M85.2 68.6h.8M87.4 82.1h.8M81.2 71.5h.8M82.8 92.3h.8M85.8 104.5h.8M82.6 75.4h.8M82.2 73.6h.8M81.9 85.5h.8M82.1 67.2h.8M93.2 68.4h.8M83.4 70.0h.8M84.8 99.3h.8M82.1 84.6h.8M88.6 97.4h.8M82.5 99.5h.8M82.2 75.6h.8M86.0 69.9h.8M84.2 64.7h.8M85.2 95.0h.8M82.8 86.2h.8M81.7 100.3h.8M92.0 91.5h.8M82.8 69.6h.8M84.0 83.8h.8M84.4 80.3h.8M83.5 67.4h.8M81.8 68.4h.8M92.4 93.7h.8M82.3 91.8h.8M81.3 80.9h.8M87.6 67.6h.8M87.6 73.6h.8M82.4 81.8h.8M82.2 95.3h.8M87.8 80.7h.8M89.3 96.0h.8M84.0 78.4h.8M88.8 89.1h.8M83.3 95.7h.8M85.2 80.9h.8M84.4 83.1h.8M89.2 64.4h.8M83.2 67.1h.8M86.5 92.6h.8M81.6 66.3h.8M81.7 70.5h.8M83.3 83.8h.8M81.2 103.7h.8M86.0 106.9h.8M89.3 96.9h.8M83.8 78.3h.8M84.4 70.0h.8M82.4 80.4h.8M86.5 64.8h.8M87.2 74.8h.8M82.8 93.9h.8M81.5 89.9h.8M82.6 103.8h.8M82.0 76.1h.8M86.5 80.8h.8M89.7 95.1h.8M85.3 73.3h.8M82.1 72.8h.8M85.6 106.0h.8M87.2 77.7h.8M82.2 101.4h.8M83.7 80.1h.8M82.8 102.5h.8M84.0 99.3h.8M82.5 75.2h.8M93.0 64.3h.8M83.0 91.9h.8M83.4 77.3h.8M83.1 76.9h.8M82.9 94.2h.8M85.5 80.5h.8M81.6 74.5h.8M83.3 100.7h.8M81.2 97.8h.8M85.0 98.3h.8M86.8 76.7h.8M83.9 106.0h.8M85.7 85.0h.8M88.0 76.2h.8M82.1 68.3h.8M85.1 98.4h.8M81.2 93.7h.8M87.2 104.2h.8M82.1 66.2h.8M82.1 64.5h.8M86.4 102.0h.8M85.8 73.3h.8M90.0 76.9h.8M90.5 67.7h.8M82.4 84.6h.8M83.3 71.3h.8M85.6 64.7h.8M81.4 104.9h.8M87.0 68.2h.8M92.4 78.5h.8M85.7 71.0h.8M82.5 99.1h.8M90.1 97.2h.8M84.8 103.4h.8M87.0 83.4h.8M91.1 97.4h.8M83.0 98.5h.8M82.4 99.8h.8M81.5 69.0h.8M88.4 84.1h.8M85.0 91.5h.8M92.5 75.8h.8M81.6 97.3h.8M89.1 90.6h.8M94.9 98.1h.8M86.6 95.5h.8M83.3 81.6h.8M82.6 67.2h.8M82.5 72.9h.8M86.4 84.3h.8M86.2 104.8h.8M86.4 71.3h.8M90.4 98.7h.8M81.9 73.5h.8M90.4 88.5h.8M85.1 102.5h.8M90.7 82.2h.8M82.5 71.9h.8M86.1 75.9h.8M82.3 95.6h.8M84.3 92.1h.8M94.1 90.2h.8M87.0 71.6h.8M83.4 96.0h.8M82.7 99.7h.8M86.9 82.8h.8M85.7 74.4h.8M86.4 89.3h.8M83.1 97.4h.8M83.2 82.5h.8M87.5 87.2h.8M81.9 95.7h.8M84.7 103.3h.8M83.5 65.6h.8M82.1 93.0h.8M87.3 64.9h.8M87.8 74.1h.8M84.3 92.7h.8M82.0 69.9h.8M89.2 91.9h.8M82.3 97.2h.8M89.0 92.7h.8M85.8 99.1h.8M83.0 89.5h.8M89.7 84.6h.8M81.9 106.4h.8M82.3 77.3h.8M85.0 69.7h.8M87.4 84.3h.8M85.0 88.4h.8M88.0 78.3h.8M85.1 104.9h.8M83.1 76.9h.8M93.0 70.4h.8M81.8 86.1h.8M87.8 72.0h.8M82.5 90.3h.8M92.4 75.1h.8M81.2 78.5h.8M86.3 92.9h.8M83.8 92.6h.8M82.3 64.1h.8M85.0 87.4h.8M82.3 87.5h.8M87.4 78.2h.8M83.9 78.7h.8M81.5 89.3h.8M87.4 97.2h.8M85.2 97.1h.8M81.9 100.0h.8M84.4 85.9h.8M83.4 73.6h.8M82.2 95.0h.8M82.1 69.4h.8M84.7 62.9h.8M84.7 68.3h.8M86.0 64.4h.8M81.9 81.0h.8M83.9 79.8h.8M89.1 105.4h.8M82.9 100.4h.8M85.1 99.2h.8M90.3 95.1h.8M89.2 70.2h.8M90.4 69.0h.8M82.7 98.9h.8M83.7 96.3h.8M82.3 64.2h.8M94.0 80.7h.8M81.0 74.2h.8M85.0 86.9h.8M89.8 82.3h.8M85.2 83.0h.8M88.4 90.0h.8M86.2 96.8h.8M84.4 102.0h.8M81.1 83.8h.8M82.6 79.0h.8M88.8 100.5h.8M82.7 63.1h.8M92.2 96.6h.8M84.7 64.4h.8M81.8 75.3h.8M84.4 103.5h.8M87.0 76.0h.8M84.5 64.2h.8M86.0 67.7h.8M86.2 105.0h.8M86.4 80.5h.8M85.5 78.6h.8M92.1 102.7h.8M92.0 100.2h.8M87.4 73.1h.8M88.7 67.4h.8M83.0 102.3h.8M82.0 79.2h.8M90.8 82.7h.8M84.9 69.1h.8M81.5 80.5h.8M86.9 102.2h.8M85.6 102.9h.8M88.2 70.5h.8M81.1 90.9h.8M85.7 68.4h.8M89.3 84.8h.8M85.4 97.3h.8M85.3 73.7h.8M83.7 88.5h.8M81.7 70.8h.8M82.5 74.6h.8M81.3 90.8h.8M85.0 77.2h.8M85.2 71.8h.8M86.2 76.5h.8M85.3 96.3h.8M85.5 80.8h.8M91.1 89.0h.8M90.6 73.7h.8M84.4 90.1h.8M84.1 63.9h.8M84.6 64.6h.8M85.0 71.8h.8M87.9 97.5h.8M82.6 69.9h.8M84.8 80.9h.8M84.4 106.7h.8M83.3 72.5h.8M87.1 68.6h.8M86.6 74.4h.8M92.4 85.9h.8M93.6 102.4h.8M88.0 63.4h.8M83.8 85.9h.8M85.5 62.8h.8M81.1 106.6h.8M84.7 82.6h.8M81.7 92.4h.8M90.1 73.6h.8M82.6 83.3h.8M86.7 99.1h.8M83.9 67.3h.8M89.7 71.7h.8M84.2 75.7h.8M82.5 99.0h.8M82.4 102.5h.8M86.5 95.7h.8M83.7 73.0h.8M83.5 76.2h.8M91.3 95.1h.8M92.2 82.0h.8M81.1 77.6h.8M85.3 106.8h.8M82.9 73.5h.8M81.9 97.1h.8M81.2 69.9h.8M88.9 103.0h.8M88.6 74.8h.8M84.0 103.5h.8M91.0 94.0h.8M83.1 101.3h.8M83.5 90.6h.8M83.4 66.6h.8M87.5 79.9h.8M81.1 106.1h.8M85.9 67.6h.8M89.7 86.0h.8M91.7 85.5h.8M92.0 81.6h.8M82.5 74.6h.8M82.7 75.9h.8M90.9 71.2h.8M82.6 73.8h.8M92.8 63.7h.8M81.4 95.7h.8M81.9 102.2h.8M90.2 71.9h.8M82.7 64.6h.8M86.4 79.3h.8M86.9 66.9h.8M91.5 81.2h.8M82.3 73.5h.8M84.8 87.9h.8M88.8 95.4h.8M86.7 101.4h.8M82.5 94.2h.8M81.2 99.3h.8M87.3 106.8h.8M83.2 80.1h.8M84.5 69.0h.8M83.4 69.7h.8M81.8 82.9h.8M85.6 93.2h.8M88.0 99.4h.8M90.1 69.5h.8M82.0 85.6h.8M81.6 65.4h.8M89.5 87.8h.8M83.4 100.9h.8M84.5 77.5h.8M87.9 92.5h.8M84.1 90.5h.8M92.2 91.9h.8M84.1 70.2h.8M95.8 84.9h.8M81.0 64.5h.8M82.1 80.6h.8M87.8 64.4h.8M82.3 105.4h.8M82.9 77.6h.8M86.4 73.2h.8M87.4 102.6h.8M84.8 81.4h.8M82.1 85.0h.8M84.4 101.1h.8M91.1 85.5h.8M83.4 79.7h.8M81.9 95.2h.8M82.5 75.6h.8M84.2 68.8h.8M92.6 94.3h.8M89.1 84.4h.8M83.5 106.9h.8M83.7 86.6h.8M88.1 102.3h.8M86.8 63.9h.8M82.0 63.0h.8M81.0 77.8h.8M82.6 99.6h.8M85.6 83.4h.8M84.0 89.4h.8M83.3 78.3h.8M83.3 77.5h.8M82.9 76.9h.8M84.6 74.8h.8M82.0 63.6h.8M88.0 92.4h.8M82.0 75.9h.8M85.6 103.3h.8M81.2 88.5h.8M84.0 69.0h.8M85.9 75.2h.8M81.8 70.2h.8M83.7 96.0h.8M87.5 73.4h.8M81.5 87.1h.8M83.7 81.5h.8M83.6 78.6h.8M87.6 101.0h.8M81.5 85.0h.8M83.6 76.0h.8M84.8 69.7h.8M87.8 75.4h.8M81.6 70.5h.8M81.2 91.9h.8M81.7 95.5h.8M86.9 88.9h.8M86.0 94.0h.8M89.6 95.7h.8M87.8 87.8h.8M81.6 70.5h.8M84.3 90.8h.8M92.6 63.1h.8M83.1 83.4h.8M85.9 69.2h.8M81.0 93.4h.8M91.3 92.1h.8M81.4 76.9h.8M82.4 88.3h.8M90.1 94.0h.8M92.0 85.0h.8M92.1 73.5h.8M85.7 67.1h.8M85.0 101.2h.8M88.1 66.0h.8M83.7 70.9h.8M81.2 97.1h.8M82.1 64.2h.8M85.1 68.4h.8M83.3 78.7h.8M85.5 68.8h.8M81.3 63.8h.8M82.2 96.9h.8M89.6 69.8h.8M84.2 103.1h.8M89.1 64.2h.8M83.1 74.3h.8M88.3 87.7h.8M82.4 66.5h.8M86.6 83.5h.8M81.2 83.9h.8M84.6 89.0h.8M85.8 103.7h.8M85.0 80.4h.8M88.1 102.9h.8M87.6 71.8h.8M88.8 91.4h.8M91.8 81.3h.8M83.7 96.9h.8M81.9 85.4h.8M90.4 106.8h.8M92.4 106.6h.8M98.6 105.9h.8M92.0 106.8h.8M97.0 106.7h.8M95.5 106.1h.8M86.4 106.5h.8M96.5 107.0h.8M85.5 106.9h.8M104.2 106.5h.8M87.5 106.7h.8M93.7 107.0h.8M91.9 106.7h.8M84.7 106.8h.8M109.2 106.8h.8M94.8 106.8h.8M100.5 105.2h.8M84.8 106.9h.8M94.3 106.9h.8M83.7 107.0h.8M106.0 106.7h.8M92.2 106.7h.8M97.1 105.9h.8M98.5 106.1h.8M94.5 106.5h.8M102.7 106.6h.8M89.8 106.1h.8M99.1 106.5h.8M106.5 106.6h.8M97.7 106.5h.8M96.9 105.3h.8M92.8 106.5h.8M96.3 106.7h.8M101.8 106.6h.8M93.6 106.4h.8M97.2 107.0h.8M94.5 105.9h.8M100.0 106.2h.8M96.1 106.4h.8M109.8 106.7h.8M85.1 106.7h.8M87.2 106.5h.8M101.6 106.5h.8M86.6 106.3h.8M98.7 107.0h.8M95.6 105.3h.8M101.7 106.6h.8M107.9 106.9h.8M97.6 106.8h.8M83.3 107.0h.8M102.7 105.8h.8M86.5 105.0h.8M94.7 106.6h.8M99.4 106.6h.8M88.8 106.7h.8M94.5 106.8h.8M95.4 106.0h.8M88.2 106.1h.8M88.8 107.0h.8M102.3 106.1h.8M94.9 107.0h.8M91.6 106.7h.8M90.5 106.5h.8M97.2 106.9h.8M96.6 105.9h.8M94.2 106.8h.8M83.5 106.4h.8M92.4 106.3h.8M90.2 105.4h.8M96.3 106.6h.8M105.9 106.2h.8M104.1 106.6h.8M101.4 107.0h.8M96.7 106.2h.8M92.9 106.1h.8M98.7 106.3h.8M91.5 106.5h.8M92.7 106.3h.8M88.3 106.6h.8M95.2 106.4h.8M95.0 107.0h.8M111.9 106.7h.8M100.5 106.9h.8M92.4 106.1h.8M102.5 106.6h.8M91.5 105.3h.8M104.5 106.7h.8M102.5 106.5h.8M121.0 105.8h.8M86.2 106.6h.8M95.0 106.6h.8M94.7 106.3h.8M98.3 107.0h.8M101.9 106.5h.8M87.2 105.3h.8M89.3 104.9h.8M98.3 107.0h.8M104.2 105.1h.8M85.9 106.2h.8M82.1 106.4h.8M105.7 105.8h.8M103.0 106.6h.8M105.2 106.2h.8M87.2 106.9h.8M93.9 106.1h.8M97.7 107.0h.8M99.5 104.7h.8M94.7 106.4h.8M95.3 105.8h.8M104.5 106.3h.8M91.9 106.6h.8M90.9 107.0h.8M91.9 106.7h.8M91.3 106.9h.8M96.8 106.5h.8" stroke="#000" stroke-width=".8" stroke-opacity=".85" fill="none"/>
<path d="M119.1 68.7h.8M113.9 73.5h.8M111.7 68.7h.8M114.0 78.5h.8M120.7 85.4h.8M127.7 69.0h.8M117.7 90.3h.8M118.1 102.2h.8M113.9 99.4h.8M112.3 100.0h.8M118.7 85.4h.8M111.8 94.6h.8M113.2 83.4h.8M112.9 59.5h.8M114.5 71.2h.8M113.3 88.1h.8M115.4 92.7h.8M113.1 83.2h.8M125.9 98.4h.8M122.7 71.4h.8M111.5 77.0h.8M121.2 98.2h.8M112.7 86.5h.8M121.9 87.1h.8M115.3 103.5h.8M114.0 99.6h.8M112.8 75.9h.8M111.8 88.4h.8M121.9 64.6h.8M115.7 85.7h.8M114.1 90.8h.8M113.6 64.2h.8M120.8 105.5h.8M115.3 92.1h.8M114.4 97.5h.8M114.2 104.7h.8M117.1 83.8h.8M116.9 99.0h.8M124.2 90.8h.8M113.2 66.8h.8M112.7 74.7h.8M112.0 78.9h.8M111.2 99.4h.8M119.6 87.2h.8M121.1 98.3h.8M111.5 80.1h.8M112.0 70.0h.8M118.7 90.8h.8M123.0 83.5h.8M113.4 100.9h.8M121.7 72.2h.8M113.7 83.4h.8M111.5 68.1h.8M116.8 92.1h.8M118.0 89.1h.8M112.0 81.0h.8M112.3 77.9h.8M115.9 67.0h.8M124.4 75.7h.8M127.9 101.4h.8M111.3 81.6h.8M114.6 101.8h.8M111.4 75.2h.8M115.0 85.0h.8M111.3 80.3h.8M120.8 82.8h.8M111.4 95.7h.8M112.1 60.3h.8M113.9 95.3h.8M111.5 94.7h.8M111.7 86.1h.8M116.1 87.0h.8M112.2 83.3h.8M114.5 94.7h.8M122.8 86.8h.8M117.9 75.4h.8M115.0 87.9h.8M120.2 98.0h.8M111.9 90.7h.8M112.6 86.4h.8M133.2 88.6h.8M113.5 79.8h.8M112.9 80.3h.8M112.6 62.5h.8M118.5 83.7h.8M114.4 98.3h.8M121.7 81.2h.8M113.9 74.7h.8M116.2 97.2h.8M111.4 88.1h.8M115.2 87.8h.8M115.6 91.9h.8M119.8 94.8h.8M117.8 85.5h.8M111.9 75.7h.8M112.4 86.7h.8M111.8 76.4h.8M111.6 88.3h.8M121.3 100.9h.8M112.3 68.4h.8M121.5 102.4h.8M115.9 84.3h.8M116.5 94.3h.8M117.9 84.7h.8M115.4 101.7h.8M113.1 101.9h.8M119.8 81.7h.8M111.9 88.9h.8M113.3 79.6h.8M111.1 97.5h.8M122.2 68.6h.8M112.9 83.9h.8M115.5 59.6h.8M117.2 93.4h.8M123.2 58.4h.8M113.0 72.9h.8M129.1 89.3h.8M113.7 81.7h.8M114.1 80.5h.8M111.3 74.1h.8M118.6 80.2h.8M113.2 64.3h.8M125.1 90.1h.8M113.2 96.0h.8M117.2 95.5h.8M115.4 85.6h.8M111.1 101.2h.8M114.0 91.8h.8M112.4 97.9h.8M111.7 90.9h.8M111.4 86.5h.8M112.7 76.6h.8M117.7 53.4h.8M123.3 94.0h.8M111.9 84.6h.8M115.2 61.5h.8M111.1 96.5h.8M113.3 74.3h.8M117.6 86.0h.8M120.4 75.1h.8M116.5 90.4h.8M124.2 85.7h.8M116.7 96.9h.8M116.6 87.9h.8M111.4 92.0h.8M111.1 101.9h.8M118.0 92.5h.8M113.6 84.4h.8M122.1 101.4h.8M130.0 84.7h.8M128.0 91.1h.8M116.2 82.1h.8M111.9 77.9h.8M120.3 48.9h.8M120.6 94.7h.8M133.1 71.8h.8M113.1 95.2h.8M111.2 69.8h.8M123.2 96.9h.8M120.5 84.9h.8M113.9 91.7h.8M112.9 71.3h.8M111.6 86.5h.8M114.8 88.0h.8M116.0 103.8h.8M112.2 90.0h.8M112.9 81.6h.8M113.2 84.8h.8M112.5 85.4h.8M115.3 87.4h.8M128.1 91.9h.8M111.4 94.9h.8M121.8 79.0h.8M118.9 84.8h.8M116.4 106.0h.8M118.0 91.7h.8M111.4 89.5h.8M120.2 83.3h.8M126.9 98.8h.8M111.7 79.8h.8M116.5 87.7h.8M122.1 80.5h.8M132.8 78.5h.8M115.6 86.7h.8M131.0 86.2h.8M112.6 79.0h.8M113.0 85.4h.8M135.7 87.0h.8M111.2 80.4h.8M124.3 78.1h.8M120.9 84.5h.8M112.1 94.9h.8M120.8 99.9h.8M112.7 88.5h.8M115.4 82.9h.8M113.8 85.8h.8M111.8 97.5h.8M114.1 74.5h.8M112.7 85.6h.8M112.3 79.7h.8M114.2 81.7h.8M111.6 65.4h.8M111.6 86.6h.8M111.6 69.4h.8M111.1 78.9h.8M114.2 105.0h.8M113.5 98.6h.8M112.4 75.5h.8M111.5 73.4h.8M111.5 75.0h.8M116.4 62.9h.8M115.6 74.1h.8M116.1 82.9h.8M112.5 73.3h.8M112.7 95.6h.8M121.5 85.6h.8" stroke="#444" stroke-width=".8" stroke-opacity=".7" fill="none"/>
<rect x="80.7" y="28.3" width="84.6" height="79" fill="none" stroke="#222" stroke-width=".95"/>
<path d="M80.7 101.4h1.6M87.1 107.3v-1.6M80.7 97.9h1.6M90.8 107.3v-1.6M80.7 95.4h1.6M93.4 107.3v-1.6M80.7 93.5h1.6M95.5 107.3v-1.6M80.7 91.9h1.6M97.2 107.3v-1.6M80.7 90.6h1.6M98.6 107.3v-1.6M80.7 89.5h1.6M99.8 107.3v-1.6M80.7 88.5h1.6M100.9 107.3v-1.6M80.7 81.6h1.6M108.2 107.3v-1.6M80.7 78.1h1.6M111.9 107.3v-1.6M80.7 75.7h1.6M114.6 107.3v-1.6M80.7 73.7h1.6M116.6 107.3v-1.6M80.7 72.2h1.6M118.3 107.3v-1.6M80.7 70.9h1.6M119.7 107.3v-1.6M80.7 69.7h1.6M121.0 107.3v-1.6M80.7 68.7h1.6M122.0 107.3v-1.6M80.7 61.9h1.6M129.4 107.3v-1.6M80.7 58.4h1.6M133.1 107.3v-1.6M80.7 55.9h1.6M135.7 107.3v-1.6M80.7 54.0h1.6M137.8 107.3v-1.6M80.7 52.4h1.6M139.5 107.3v-1.6M80.7 51.1h1.6M140.9 107.3v-1.6M80.7 50.0h1.6M142.1 107.3v-1.6M80.7 49.0h1.6M143.2 107.3v-1.6M80.7 42.1h1.6M150.5 107.3v-1.6M80.7 38.6h1.6M154.2 107.3v-1.6M80.7 36.2h1.6M156.9 107.3v-1.6M80.7 34.2h1.6M158.9 107.3v-1.6M80.7 32.7h1.6M160.6 107.3v-1.6M80.7 31.4h1.6M162.0 107.3v-1.6M80.7 30.2h1.6M163.3 107.3v-1.6M80.7 29.2h1.6M164.3 107.3v-1.6" stroke="#111" stroke-width=".6" fill="none"/>
<rect x="115.2" y="40.4" width="32.8" height="66.9" fill="none" stroke="#111" stroke-width="1"/>
<path d="M148 68H184" stroke="#111" stroke-width="1.2" fill="none"/>
<path d="M182.5 64.8L193.5 68L182.5 71.3Z" fill="#111"/>
<text x="197.8" y="70.9" font-size="10.6">c-kit<tspan font-size="6" dy="-2.2">+</tspan></text>
<text transform="translate(64.4 110.2) scale(.9 1)" font-size="9.6" stroke="#111" stroke-width=".2">10<tspan font-size="6.8" dy="-2.9">0</tspan></text>
<text transform="translate(64.4 90.9) scale(.9 1)" font-size="9.6" stroke="#111" stroke-width=".2">10<tspan font-size="6.8" dy="-2.9">1</tspan></text>
<text transform="translate(64.4 71.5) scale(.9 1)" font-size="9.6" stroke="#111" stroke-width=".2">10<tspan font-size="6.8" dy="-2.9">2</tspan></text>
<text transform="translate(64.4 51.4) scale(.9 1)" font-size="9.6" stroke="#111" stroke-width=".2">10<tspan font-size="6.8" dy="-2.9">3</tspan></text>
<text transform="translate(64.4 32.0) scale(.9 1)" font-size="9.6" stroke="#111" stroke-width=".2">10<tspan font-size="6.8" dy="-2.9">4</tspan></text>
<text transform="translate(76.5 119) scale(.9 1)" font-size="9.6" stroke="#111" stroke-width=".2">10<tspan font-size="6.8" dy="-2.9">0</tspan></text>
<text transform="translate(97.6 119) scale(.9 1)" font-size="9.6" stroke="#111" stroke-width=".2">10<tspan font-size="6.8" dy="-2.9">1</tspan></text>
<text transform="translate(119.6 119) scale(.9 1)" font-size="9.6" stroke="#111" stroke-width=".2">10<tspan font-size="6.8" dy="-2.9">2</tspan></text>
<text transform="translate(142.2 119) scale(.9 1)" font-size="9.6" stroke="#111" stroke-width=".2">10<tspan font-size="6.8" dy="-2.9">3</tspan></text>
<text transform="translate(164.6 119) scale(.9 1)" font-size="9.6" stroke="#111" stroke-width=".2">10<tspan font-size="6.8" dy="-2.9">4</tspan></text>
<text x="121.2" y="128.8" font-size="9.6" text-anchor="middle">c-kit - APC</text>
<text transform="translate(55.6 69.7) rotate(-90)" font-size="8.1" stroke="#111" stroke-width=".2" text-anchor="middle">Gr-1 PE</text>
<text x="1" y="158.7" font-size="11.8">B</text>
<path d="M37.2 160V325.1H226" stroke="#111" stroke-width="1.1" fill="none"/>
<path d="M37.3 149.2L33.9 161H40.9Z" fill="#111"/>
<path d="M224.2 321.7L236.9 325.2L224.2 328.8Z" fill="#111"/>
<text x="70.7" y="165.3" font-size="11">ICSBP<tspan font-size="8.6" dy="-3.2">+/+</tspan></text>
<text x="144.2" y="165.3" font-size="11">ICSBP<tspan font-size="9.6" dy="-3.2">-/-</tspan></text>
<text transform="translate(24.3 236.2) rotate(-90)" font-size="10.5" text-anchor="middle">Cell number</text>
<text x="130.3" y="345.5" font-size="11.2" text-anchor="middle">Fluorescence-Intensity</text>
<text x="129.6" y="358.7" font-size="11" text-anchor="middle">Integrin - FITC</text>
<text class="r" x="210.3" y="199.9" font-size="13.5">α<tspan font-size="8" dy="2">4</tspan></text>
<text class="r" x="210.3" y="247.9" font-size="13.5">α<tspan font-size="8" dy="2">5</tspan></text>
<text class="r" x="211" y="295.3" font-size="13.5">β<tspan font-size="8" dy="3" dx="1">1</tspan></text>
<path d="M49.8 174.0V221.5H114.5" stroke="#888" stroke-width=".8" fill="none"/>
<polygon points="49.8,221.2 49.8,212.6 52.3,207.2 54.9,199.5 56.9,191.7 58.2,187.4 59.6,186.3 60.8,183.0 61.2,182.4 61.7,183.6 63.1,190.2 64.8,198.7 66.5,206.5 68.1,211.9 69.7,216.2 71.6,218.9 73.2,220.4 74.5,221.2" fill="#000" stroke="#000" stroke-width=".4" stroke-linejoin="round"/>
<polyline points="81.5,220.2 83.2,218.3 83.6,217.7 85.6,217.3 87.2,210.6 88.5,201.8 89.7,193.0 90.8,188.5 91.8,186.0 92.6,188.8 93.8,196.6 95.2,207.1 96.4,215.2 97.6,219.8 98.6,221.2" fill="#fff" stroke="#333" stroke-width=".75" stroke-linejoin="round"/>
<path d="M129.5 173.7V221.5H195.0" stroke="#888" stroke-width=".8" fill="none"/>
<polygon points="129.5,221.2 129.5,215.0 131.8,208.5 134.2,201.5 136.0,194.4 137.3,190.6 138.5,189.5 139.6,186.6 140.0,186.0 140.5,187.2 141.8,193.0 143.4,200.8 145.0,207.8 146.5,212.8 148.0,216.6 149.8,219.1 151.2,220.5 152.5,221.2" fill="#000" stroke="#000" stroke-width=".4" stroke-linejoin="round"/>
<polyline points="157.5,220.3 159.0,218.9 160.3,219.1 163.2,217.6 165.3,210.5 167.2,201.7 168.9,192.8 170.3,188.2 171.7,185.7 172.5,188.5 173.6,196.3 174.9,207.0 176.1,215.2 177.2,219.8 178.2,221.2" fill="#fff" stroke="#333" stroke-width=".75" stroke-linejoin="round"/>
<path d="M49.8 222.5V270.1H114.5" stroke="#888" stroke-width=".8" fill="none"/>
<polygon points="49.8,269.8 49.8,260.0 52.3,255.9 54.8,248.2 56.7,240.5 58.1,236.3 59.4,235.2 60.6,231.9 61.0,231.3 61.5,232.5 62.9,239.0 64.6,247.5 66.4,255.2 68.0,260.6 69.6,264.8 71.5,267.5 73.2,269.0 74.5,269.8" fill="#000" stroke="#000" stroke-width=".4" stroke-linejoin="round"/>
<polyline points="78.0,269.8 79.9,268.9 81.8,266.6 83.3,260.3 84.5,252.4 85.7,244.5 86.6,240.4 87.6,238.2 88.4,240.7 89.7,247.7 91.0,257.2 92.3,264.4 93.5,268.5 94.5,269.8" fill="#fff" stroke="#333" stroke-width=".75" stroke-linejoin="round"/>
<path d="M129.5 222.5V270.3H194.5" stroke="#888" stroke-width=".8" fill="none"/>
<polygon points="129.5,270.0 129.5,263.8 131.8,256.9 134.2,249.6 136.0,242.3 137.3,238.3 138.5,237.2 139.6,234.2 140.0,233.6 140.5,234.8 141.9,240.9 143.6,248.9 145.4,256.2 147.0,261.3 148.6,265.3 150.5,267.8 152.2,269.3 153.5,270.0" fill="#000" stroke="#000" stroke-width=".4" stroke-linejoin="round"/>
<polyline points="156.0,270.0 158.0,268.6 160.0,266.2 161.5,263.8 162.6,262.0 163.5,256.0 164.8,247.0 166.0,241.0 167.3,237.5 168.3,242.0 169.3,250.0 170.5,259.0 171.5,266.0 172.8,270.0" fill="#fff" stroke="#333" stroke-width=".75" stroke-linejoin="round"/>
<path d="M49.8 270.5V317.6H114.5" stroke="#888" stroke-width=".8" fill="none"/>
<polygon points="49.8,317.3 49.8,307.6 52.3,303.3 54.8,295.6 56.7,287.8 58.1,283.5 59.4,282.4 60.6,279.1 61.0,278.5 61.5,279.7 63.0,286.3 64.8,294.8 66.7,302.6 68.4,308.0 70.1,312.3 72.1,315.0 73.8,316.5 75.2,317.3" fill="#000" stroke="#000" stroke-width=".4" stroke-linejoin="round"/>
<polyline points="76.0,317.3 77.6,316.3 79.2,314.1 80.4,307.6 81.4,299.5 82.4,291.5 83.2,287.3 84.0,285.0 84.8,287.6 86.1,294.7 87.5,304.4 88.8,311.8 90.0,316.0 91.0,317.3" fill="#fff" stroke="#333" stroke-width=".75" stroke-linejoin="round"/>
<path d="M129.5 270.5V317.6H194.5" stroke="#888" stroke-width=".8" fill="none"/>
<polygon points="129.5,317.3 129.5,311.4 131.8,304.0 134.2,296.6 136.0,289.3 137.3,285.2 138.5,284.1 139.6,281.0 140.0,280.4 140.5,281.6 141.9,287.8 143.6,295.9 145.4,303.3 147.0,308.4 148.6,312.5 150.5,315.1 152.2,316.6 153.5,317.3" fill="#000" stroke="#000" stroke-width=".4" stroke-linejoin="round"/>
<polyline points="154.5,317.3 156.5,316.2 158.5,313.8 160.0,306.8 161.3,298.0 162.5,289.2 163.5,284.7 164.5,282.2 165.3,285.0 166.4,292.7 167.8,303.3 168.9,311.3 170.0,315.9 171.0,317.3" fill="#fff" stroke="#333" stroke-width=".75" stroke-linejoin="round"/>
<text x="323.1" y="15.2" font-size="13">C</text>
<rect x="324.6" y="28.3" width="187.1" height="160.6" fill="none" stroke="#111" stroke-width="1.05"/>
<path d="M460.4 28.3V188.9" stroke="#111" stroke-width="1.05"/>
<path d="M321.2 45.4H324.6" stroke="#111" stroke-width="1"/>
<text x="317.3" y="48.6" font-size="9.5" text-anchor="end">150</text>
<path d="M321.2 96.6H324.6" stroke="#111" stroke-width="1"/>
<text x="317.3" y="99.8" font-size="9.5" text-anchor="end">100</text>
<path d="M321.2 142.3H324.6" stroke="#111" stroke-width="1"/>
<text x="317.3" y="145.5" font-size="9.5" text-anchor="end">50</text>
<path d="M321.2 188.7H324.6" stroke="#111" stroke-width="1"/>
<text x="317.3" y="191.9" font-size="9.5" text-anchor="end">0</text>
<rect x="338.3" y="37.7" width="9" height="9" fill="#000"/>
<text x="355.8" y="45.6" font-size="10.5" style="font-family:'Liberation Sans',sans-serif">+/+</text>
<rect x="395.3" y="38.2" width="8.2" height="8" fill="#d2d2d2" stroke="#222" stroke-width="1"/>
<text x="413" y="45.6" font-size="10.8" style="font-family:'Liberation Sans',sans-serif">-/-</text>
<rect x="336.7" y="94.2" width="9.4" height="94.7" fill="#000"/>
<path d="M341.4 94.2V85.1M338.4 85.1H344.4" stroke="#000" stroke-width="1" fill="none"/>
<rect x="346.6" y="178.5" width="7.9" height="10.4" fill="#d0d0d0" stroke="#111" stroke-width="1"/>
<rect x="347.1" y="179.0" width="6.9" height="2.0" fill="#fff"/>
<path d="M350.6 176.3V180.5M347.8 176.3H353.4M348.1 180.5H353.1" stroke="#000" stroke-width="1" fill="none"/>
<rect x="359.0" y="95.0" width="9.5" height="93.9" fill="#000"/>
<path d="M363.8 95.0V88.1M360.8 88.1H366.8" stroke="#000" stroke-width="1" fill="none"/>
<rect x="369.0" y="178.5" width="7.9" height="10.4" fill="#d0d0d0" stroke="#111" stroke-width="1"/>
<rect x="369.5" y="179.0" width="6.9" height="2.7" fill="#fff"/>
<path d="M372.9 174.4V181.2M370.1 174.4H375.8M370.4 181.2H375.4" stroke="#000" stroke-width="1" fill="none"/>
<rect x="381.9" y="93.5" width="9.5" height="95.4" fill="#000"/>
<path d="M386.6 93.5V79.2M383.6 79.2H389.6" stroke="#000" stroke-width="1" fill="none"/>
<rect x="391.9" y="165.8" width="7.8" height="23.1" fill="#d0d0d0" stroke="#111" stroke-width="1"/>
<rect x="392.4" y="166.3" width="6.8" height="2.4" fill="#fff"/>
<path d="M395.8 163.7V168.2M393.0 163.7H398.6M393.3 168.2H398.3" stroke="#000" stroke-width="1" fill="none"/>
<rect x="404.3" y="179.8" width="9.4" height="9.1" fill="#000"/>
<path d="M409.0 179.8V176.3M406.0 176.3H412.0" stroke="#000" stroke-width="1" fill="none"/>
<rect x="414.2" y="183.3" width="8.2" height="5.6" fill="#d0d0d0" stroke="#111" stroke-width="1"/>
<rect x="414.7" y="183.8" width="7.2" height="1.9" fill="#fff"/>
<path d="M418.3 181.7V185.2M415.5 181.7H421.1M415.8 185.2H420.8" stroke="#000" stroke-width="1" fill="none"/>
<rect x="426.4" y="181.2" width="9.9" height="7.7" fill="#000"/>
<path d="M431.4 181.2V179.0M428.4 179.0H434.4" stroke="#000" stroke-width="1" fill="none"/>
<rect x="436.8" y="186.0" width="8.4" height="2.9" fill="#d0d0d0" stroke="#111" stroke-width="1"/>
<path d="M441.0 185.2V186.8M438.2 185.2H443.8M438.5 186.8H443.5" stroke="#000" stroke-width="1" fill="none"/>
<rect x="476.0" y="96.4" width="10.3" height="92.5" fill="#000"/>
<path d="M481.1 96.4V90.6M478.1 90.6H484.1" stroke="#000" stroke-width="1" fill="none"/>
<rect x="486.8" y="72.0" width="8.0" height="116.9" fill="#d0d0d0" stroke="#111" stroke-width="1"/>
<rect x="487.3" y="72.5" width="7.0" height="4.2" fill="#fff"/>
<path d="M490.8 67.8V76.2M488.0 67.8H493.6M488.3 76.2H493.3" stroke="#000" stroke-width="1" fill="none"/>
<text x="382" y="203" font-size="9.5" text-anchor="middle">Adherent to</text>
<path d="M329.5 207.5H455" stroke="#111" stroke-width="1"/>
<text transform="translate(346.5 240) rotate(-90)" font-size="8.8">anti-<tspan class="r" font-size="11">β</tspan><tspan font-size="6.5" dy="2">1</tspan></text>
<text transform="translate(369.7 240) rotate(-90)" font-size="8.8">anti-<tspan class="r" font-size="11">α</tspan><tspan font-size="6.5" dy="2">4</tspan></text>
<text transform="translate(393.5 240) rotate(-90)" font-size="8.8">anti-<tspan class="r" font-size="11">α</tspan><tspan font-size="6.5" dy="2">5</tspan></text>
<text transform="translate(416.5 240) rotate(-90)" font-size="8.8">IgG 2a</text>
<text transform="translate(440.0 240) rotate(-90)" font-size="8.8">IgG 2b</text>
<text x="492.8" y="204.4" font-size="9.25" text-anchor="middle">Total</text>
<text x="492.2" y="215.4" font-size="9.25" text-anchor="middle">bone marrow</text>
<text transform="translate(287.8 106.8) rotate(-90)" font-size="11" text-anchor="middle">Colonies per 5 x 10<tspan font-size="6.5" dy="-4">4</tspan><tspan dy="4" dx="1.2">cells</tspan></text>
</svg></body></html>
